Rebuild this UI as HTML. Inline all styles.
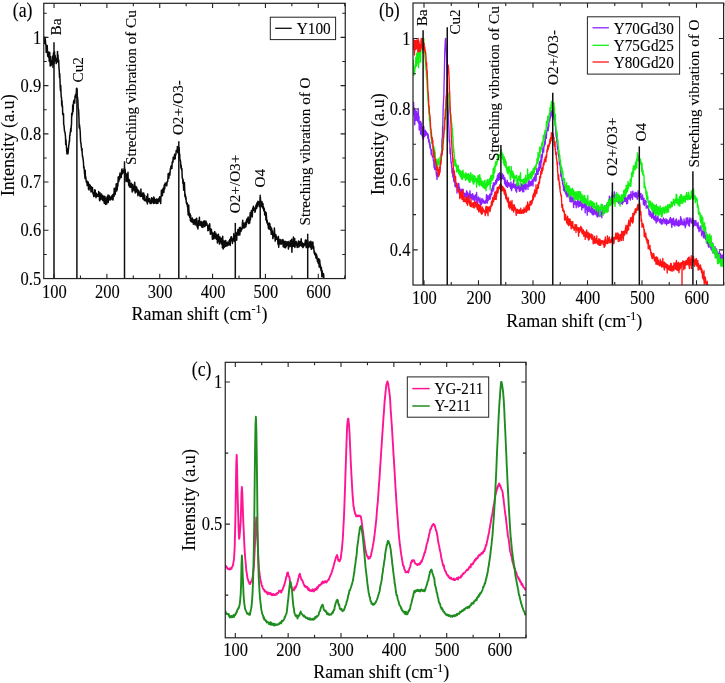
<!DOCTYPE html>
<html><head><meta charset="utf-8"><title>Raman spectra</title>
<style>
html,body{margin:0;padding:0;background:#fff;}
body{width:725px;height:683px;overflow:hidden;}
svg{display:block;will-change:transform;}
text{font-family:"Liberation Serif",serif;fill:#000;stroke:#000;stroke-width:0.1px;}
</style></head><body>
<svg width="725" height="683" viewBox="0 0 725 683">
<rect width="725" height="683" fill="#fff"/>
<clipPath id="ca"><rect x="43.76" y="3.3" width="301.5" height="275.26"/></clipPath>
<polyline points="43.7,41.2 44.0,37.2 44.2,43.6 44.5,37.2 44.7,37.2 45.0,37.7 45.2,38.5 45.5,41.6 45.7,44.3 46.0,45.5 46.2,52.5 46.5,45.5 46.7,49.8 47.0,46.6 47.2,45.6 47.5,51.7 47.7,56.3 48.0,51.4 48.2,55.6 48.5,57.2 48.7,52.6 49.0,54.9 49.2,61.2 49.5,55.3 49.7,52.3 50.0,59.9 50.2,65.9 50.5,58.0 50.7,56.8 51.0,65.6 51.2,63.9 51.5,60.4 51.7,61.0 52.0,64.5 52.2,64.4 52.5,61.6 52.7,56.0 53.0,67.4 53.2,57.3 53.5,52.9 53.7,62.2 54.0,62.7 54.2,63.1 54.5,51.8 54.7,56.8 55.0,55.7 55.2,55.6 55.5,61.2 55.7,61.3 56.0,58.4 56.2,63.6 56.5,59.5 56.7,62.5 57.0,61.6 57.2,61.9 57.5,51.4 57.7,61.8 58.0,55.0 58.2,60.7 58.5,61.8 58.7,60.0 59.0,68.6 59.2,69.9 59.5,77.4 59.7,73.6 60.0,79.5 60.2,86.6 60.5,90.7 60.7,85.3 61.0,92.2 61.2,96.9 61.5,97.2 61.7,105.2 62.0,100.7 62.2,107.0 62.5,105.9 62.7,114.4 63.0,113.2 63.2,114.8 63.5,113.8 63.7,124.8 64.0,125.0 64.2,127.6 64.5,131.2 64.7,131.8 65.0,131.9 65.2,134.1 65.5,136.6 65.7,144.5 66.0,139.8 66.2,144.2 66.5,147.0 66.7,150.9 67.0,154.0 67.2,150.4 67.5,148.8 67.7,152.1 68.0,153.8 68.2,151.4 68.5,148.4 68.7,145.1 69.0,144.6 69.2,141.2 69.5,141.7 69.7,135.4 70.0,135.4 70.2,132.4 70.5,131.5 70.7,128.3 71.0,131.6 71.2,126.6 71.5,124.3 71.7,113.3 72.0,115.6 72.2,113.0 72.5,113.9 72.7,105.0 73.0,111.8 73.2,109.8 73.5,102.2 73.7,101.3 74.0,100.2 74.2,100.8 74.5,100.9 74.7,103.1 75.0,96.2 75.2,97.4 75.5,94.6 75.7,97.5 76.0,94.0 76.2,94.8 76.5,88.2 76.7,90.1 77.0,88.5 77.2,95.9 77.5,97.1 77.7,98.9 78.0,102.7 78.2,108.6 78.5,109.1 78.7,112.1 79.0,119.3 79.2,128.0 79.5,124.8 79.7,127.5 80.0,129.2 80.2,131.8 80.5,139.2 80.7,142.7 81.0,143.1 81.2,146.3 81.5,148.1 81.7,150.4 82.0,148.4 82.2,153.2 82.5,156.6 82.7,156.3 83.0,159.0 83.2,160.0 83.5,163.0 83.7,167.9 84.0,166.5 84.2,169.0 84.5,173.1 84.7,174.3 85.0,178.4 85.2,170.3 85.5,178.8 85.7,176.5 86.0,178.8 86.2,181.3 86.5,182.5 86.7,183.0 87.0,181.4 87.2,185.6 87.5,181.3 87.7,182.2 88.0,185.0 88.2,182.0 88.5,189.2 88.7,186.8 89.0,190.0 89.2,184.9 89.5,184.4 89.7,186.2 90.0,188.1 90.2,185.2 90.5,188.0 90.7,187.5 91.0,192.0 91.2,186.8 91.5,191.5 91.7,187.7 92.0,187.3 92.2,188.4 92.5,187.6 92.7,191.4 93.0,194.0 93.2,192.2 93.5,193.7 93.7,196.6 94.0,193.6 94.2,193.7 94.5,192.9 94.7,189.8 95.0,196.0 95.2,190.0 95.5,196.2 95.7,194.7 96.0,197.8 96.2,195.0 96.5,193.3 96.7,196.4 97.0,194.3 97.2,195.4 97.5,196.2 97.7,195.9 98.0,196.0 98.2,194.5 98.5,196.3 98.7,191.6 99.0,196.7 99.2,194.2 99.5,200.2 99.7,200.7 100.0,192.8 100.2,198.1 100.5,197.6 100.7,195.4 101.0,199.5 101.2,197.1 101.5,193.9 101.7,197.8 102.0,198.1 102.2,198.8 102.5,195.6 102.7,200.2 103.0,200.6 103.2,195.9 103.5,197.1 103.7,198.6 104.0,197.4 104.2,203.2 104.5,199.3 104.7,196.2 105.0,196.8 105.2,198.6 105.5,204.4 105.7,198.2 106.0,198.9 106.2,199.8 106.5,198.4 106.7,204.1 107.0,197.1 107.2,200.2 107.5,198.6 107.7,199.7 108.0,195.1 108.2,202.4 108.5,197.6 108.7,197.9 109.0,195.4 109.2,195.8 109.5,198.9 109.7,199.8 110.0,199.1 110.2,200.1 110.5,198.8 110.7,196.9 111.0,198.8 111.2,198.1 111.5,196.2 111.7,198.1 112.0,199.4 112.2,196.6 112.5,194.9 112.7,197.4 113.0,200.0 113.2,194.4 113.5,194.2 113.7,193.7 114.0,196.5 114.2,188.3 114.5,193.3 114.7,194.7 115.0,189.1 115.2,194.2 115.5,191.1 115.7,187.7 116.0,188.9 116.2,183.9 116.5,185.6 116.7,191.0 117.0,183.5 117.2,189.7 117.5,184.2 117.7,186.3 118.0,183.4 118.2,177.0 118.5,180.5 118.7,181.6 119.0,177.5 119.2,176.2 119.5,179.7 119.7,176.4 120.0,173.0 120.2,174.7 120.5,177.8 120.7,173.7 121.0,176.6 121.2,177.4 121.5,173.1 121.7,169.7 122.0,168.9 122.2,171.8 122.5,173.8 122.7,172.2 123.0,172.9 123.2,170.4 123.5,172.3 123.7,170.5 124.0,170.9 124.2,168.6 124.5,168.0 124.7,170.9 125.0,169.6 125.2,170.3 125.5,174.9 125.7,173.4 126.0,181.6 126.2,177.2 126.5,174.0 126.7,178.2 127.0,177.9 127.2,176.0 127.5,181.2 127.7,177.2 128.0,172.2 128.2,182.5 128.4,179.5 128.7,185.3 128.9,180.4 129.2,179.5 129.4,186.7 129.7,180.5 129.9,184.0 130.2,187.4 130.4,184.4 130.7,184.2 130.9,185.0 131.2,187.1 131.4,183.3 131.7,187.1 131.9,187.3 132.2,192.0 132.4,185.6 132.7,184.4 132.9,188.8 133.2,186.2 133.4,188.1 133.7,188.0 133.9,190.8 134.2,186.5 134.4,188.1 134.7,182.2 134.9,186.6 135.2,192.9 135.4,187.5 135.7,187.7 135.9,186.6 136.2,191.3 136.4,190.5 136.7,187.3 136.9,192.2 137.2,191.3 137.4,192.8 137.7,189.5 137.9,195.7 138.2,192.5 138.4,191.4 138.7,190.6 138.9,191.5 139.2,194.5 139.4,191.9 139.7,195.5 139.9,194.5 140.2,196.6 140.4,195.5 140.7,193.5 140.9,189.1 141.2,194.8 141.4,196.3 141.7,194.9 141.9,196.1 142.2,193.8 142.4,194.2 142.7,193.0 142.9,199.0 143.2,196.2 143.4,194.8 143.7,192.9 143.9,196.0 144.2,200.2 144.4,197.9 144.7,195.2 144.9,200.7 145.2,200.9 145.4,200.0 145.7,199.7 145.9,200.8 146.2,199.4 146.4,200.2 146.7,196.5 146.9,202.3 147.2,199.3 147.4,203.9 147.7,193.9 147.9,200.9 148.2,201.8 148.4,198.6 148.7,200.7 148.9,201.5 149.2,201.2 149.4,198.6 149.7,199.7 149.9,202.7 150.2,203.5 150.4,200.7 150.7,200.7 150.9,201.1 151.2,203.4 151.4,198.2 151.7,197.7 151.9,201.4 152.2,198.4 152.4,199.8 152.7,201.6 152.9,202.6 153.2,198.8 153.4,203.5 153.7,197.1 153.9,202.9 154.2,197.7 154.4,198.4 154.7,203.2 154.9,200.5 155.2,199.5 155.4,200.3 155.7,202.5 155.9,201.1 156.2,201.0 156.4,203.6 156.7,199.0 156.9,199.5 157.2,199.2 157.4,203.3 157.7,202.7 157.9,203.2 158.2,199.8 158.4,199.3 158.7,201.6 158.9,198.3 159.2,201.1 159.4,200.5 159.7,196.7 159.9,197.9 160.2,197.5 160.4,201.8 160.7,203.6 160.9,196.5 161.2,196.4 161.4,190.2 161.7,195.9 161.9,194.9 162.2,191.6 162.4,195.6 162.7,189.1 162.9,191.8 163.2,192.0 163.4,187.9 163.7,192.5 163.9,192.3 164.2,185.5 164.4,184.7 164.7,189.0 164.9,186.7 165.2,183.0 165.4,184.6 165.7,184.3 165.9,183.4 166.2,185.0 166.4,183.1 166.7,185.8 166.9,184.1 167.2,181.5 167.4,181.7 167.7,181.5 167.9,179.2 168.2,173.6 168.4,178.0 168.7,175.2 168.9,178.2 169.2,173.6 169.4,173.8 169.7,172.5 169.9,175.1 170.2,170.5 170.4,168.5 170.7,169.1 170.9,166.3 171.2,166.9 171.4,165.6 171.7,165.4 171.9,168.6 172.2,162.0 172.4,162.3 172.7,161.0 172.9,162.5 173.2,157.2 173.4,157.8 173.7,158.7 173.9,159.6 174.2,157.5 174.4,155.7 174.7,154.2 174.9,157.1 175.2,158.8 175.4,155.4 175.7,154.5 175.9,154.6 176.2,150.5 176.4,151.5 176.7,150.9 176.9,151.6 177.2,150.0 177.4,146.4 177.7,151.7 177.9,152.8 178.2,147.7 178.4,149.4 178.7,149.7 178.9,152.0 179.2,147.8 179.4,157.3 179.7,154.1 179.9,160.5 180.2,159.8 180.4,160.7 180.7,163.4 180.9,167.9 181.2,165.2 181.4,168.2 181.7,169.8 181.9,168.6 182.2,178.0 182.4,178.1 182.7,178.5 182.9,183.4 183.2,180.0 183.4,184.0 183.7,190.3 183.9,190.2 184.2,183.8 184.4,182.6 184.7,189.8 184.9,196.5 185.2,194.0 185.4,195.9 185.7,199.2 185.9,196.7 186.2,200.6 186.4,203.2 186.7,203.5 186.9,204.4 187.2,202.9 187.4,206.7 187.7,205.4 187.9,210.7 188.2,214.9 188.4,207.6 188.7,205.0 188.9,210.3 189.2,213.4 189.4,216.1 189.7,217.2 189.9,213.6 190.2,214.5 190.4,220.5 190.7,215.4 190.9,221.5 191.2,218.7 191.4,221.5 191.7,221.6 191.9,222.0 192.2,222.3 192.4,218.0 192.7,221.4 192.9,220.9 193.2,221.8 193.4,224.3 193.7,220.7 193.9,219.7 194.2,219.8 194.4,221.0 194.7,223.8 194.9,220.0 195.2,225.0 195.4,223.0 195.7,221.8 195.9,219.1 196.2,223.1 196.4,224.3 196.7,218.3 196.9,225.7 197.2,226.9 197.4,223.7 197.7,224.2 197.9,229.0 198.2,226.1 198.4,220.8 198.7,223.1 198.9,222.8 199.2,222.8 199.4,217.3 199.7,225.2 199.9,221.7 200.2,223.7 200.4,223.0 200.7,225.5 200.9,222.7 201.2,221.4 201.4,224.8 201.7,227.0 201.9,222.7 202.2,226.9 202.4,224.2 202.7,222.2 202.9,227.4 203.2,221.6 203.4,226.2 203.7,222.5 203.9,224.9 204.2,220.7 204.4,221.8 204.7,226.6 204.9,224.5 205.2,224.2 205.4,223.1 205.7,225.4 205.9,221.0 206.2,221.9 206.4,224.5 206.7,223.0 206.9,223.6 207.2,225.4 207.4,225.6 207.7,225.7 207.9,230.7 208.2,229.4 208.4,230.3 208.7,227.5 208.9,226.6 209.2,224.6 209.4,227.8 209.7,223.8 209.9,227.9 210.2,231.7 210.4,234.2 210.7,232.9 210.9,228.7 211.2,232.4 211.4,229.5 211.7,233.9 211.9,231.9 212.2,234.6 212.4,239.2 212.7,235.3 212.9,239.1 213.2,234.0 213.4,233.0 213.7,237.4 213.9,238.7 214.2,233.2 214.4,235.1 214.7,231.6 214.9,235.0 215.2,238.0 215.4,235.9 215.7,235.0 215.9,233.2 216.2,237.9 216.4,239.3 216.7,239.1 216.9,238.5 217.2,235.0 217.4,242.9 217.7,238.6 217.9,238.7 218.2,241.2 218.4,234.2 218.7,239.8 218.9,239.9 219.2,241.4 219.4,244.1 219.7,242.2 219.9,236.7 220.2,240.6 220.4,242.2 220.7,242.3 220.9,239.0 221.2,238.2 221.4,244.0 221.7,243.6 221.9,242.9 222.2,238.8 222.4,247.7 222.7,236.2 222.9,242.7 223.2,248.9 223.4,243.4 223.7,244.5 223.9,241.1 224.2,247.5 224.4,240.9 224.7,244.8 224.9,244.5 225.2,241.6 225.4,246.4 225.7,240.6 225.9,242.4 226.2,244.0 226.4,243.0 226.7,245.1 226.9,246.1 227.2,243.0 227.4,242.3 227.7,242.2 227.9,242.4 228.2,245.2 228.4,242.5 228.7,243.9 228.9,242.5 229.2,240.4 229.4,244.5 229.7,239.5 229.9,241.9 230.2,245.4 230.4,238.7 230.7,241.1 230.9,237.0 231.2,239.5 231.4,236.8 231.7,239.4 231.9,238.7 232.2,240.1 232.4,243.5 232.7,240.0 232.9,240.7 233.2,238.6 233.4,237.9 233.7,236.2 233.9,233.5 234.2,237.9 234.4,241.6 234.7,238.5 234.9,235.7 235.2,240.9 235.4,235.5 235.7,234.8 235.9,233.0 236.2,233.4 236.4,234.9 236.7,240.3 236.9,234.5 237.2,232.2 237.4,233.0 237.7,233.6 237.9,229.6 238.2,233.9 238.4,235.1 238.7,233.8 238.9,234.2 239.2,229.2 239.4,227.8 239.7,235.0 239.9,234.2 240.2,227.3 240.4,231.3 240.7,230.5 240.9,231.5 241.2,230.3 241.4,228.2 241.7,229.6 241.9,229.2 242.2,228.3 242.4,223.4 242.7,220.2 242.9,225.4 243.2,222.9 243.4,227.3 243.7,228.1 243.9,226.6 244.2,224.7 244.4,225.4 244.7,227.8 244.9,222.7 245.2,226.5 245.4,225.6 245.7,224.1 245.9,226.7 246.2,220.9 246.4,224.7 246.7,219.7 246.9,219.7 247.2,218.6 247.4,222.0 247.7,218.2 247.9,220.3 248.2,217.0 248.4,222.1 248.7,223.6 248.9,219.2 249.2,222.4 249.4,219.3 249.7,222.9 249.9,217.3 250.2,212.7 250.4,219.9 250.7,215.4 250.9,212.7 251.2,213.2 251.4,210.4 251.7,213.6 251.9,210.9 252.2,216.9 252.4,214.4 252.7,208.1 252.9,208.1 253.2,210.0 253.4,206.2 253.7,210.3 253.9,210.1 254.2,207.9 254.4,208.1 254.7,210.3 254.9,212.2 255.2,212.0 255.4,208.0 255.7,209.7 255.9,205.4 256.2,208.0 256.4,204.2 256.7,208.2 256.9,203.0 257.2,203.4 257.4,205.5 257.7,206.6 257.9,201.3 258.2,203.3 258.4,204.7 258.7,204.6 258.9,201.7 259.2,203.8 259.4,202.7 259.7,206.7 259.9,204.5 260.2,199.7 260.4,197.5 260.7,203.3 260.9,206.2 261.2,204.0 261.4,206.1 261.7,203.1 261.9,201.4 262.2,207.2 262.4,206.1 262.7,208.1 262.9,203.4 263.2,207.9 263.4,206.5 263.7,210.7 263.9,207.9 264.2,208.6 264.4,209.5 264.7,215.0 264.9,212.7 265.2,211.7 265.4,211.9 265.7,212.8 265.9,219.9 266.2,212.7 266.4,216.0 266.7,220.6 266.9,222.8 267.2,220.3 267.4,223.4 267.7,224.0 267.9,225.2 268.2,223.5 268.4,228.1 268.7,225.2 268.9,229.1 269.2,223.1 269.4,228.8 269.7,223.9 269.9,223.8 270.2,229.4 270.4,226.6 270.7,230.4 270.9,227.1 271.2,234.3 271.4,230.8 271.7,228.4 271.9,232.2 272.2,234.4 272.4,230.7 272.7,234.4 272.9,238.6 273.2,236.1 273.4,234.3 273.7,233.3 273.9,236.5 274.2,231.6 274.4,228.1 274.7,234.4 274.9,233.7 275.2,241.1 275.4,237.4 275.7,235.0 275.9,234.8 276.2,239.3 276.4,236.3 276.7,237.2 276.9,238.8 277.2,239.5 277.4,239.8 277.7,240.1 277.9,243.3 278.2,244.6 278.4,236.4 278.7,247.2 278.9,241.3 279.2,244.3 279.4,239.5 279.7,242.3 279.9,242.2 280.2,242.0 280.4,244.0 280.7,243.5 280.9,239.5 281.2,241.8 281.4,244.0 281.7,244.0 281.9,241.5 282.2,241.8 282.4,242.2 282.7,239.9 282.9,239.5 283.2,246.7 283.4,241.9 283.7,243.2 283.9,241.1 284.2,246.3 284.4,247.5 284.7,242.7 284.9,244.6 285.2,241.5 285.4,247.8 285.7,245.8 285.9,241.4 286.2,246.7 286.4,244.5 286.7,244.7 286.9,244.6 287.2,242.1 287.4,242.5 287.7,245.4 287.9,243.8 288.2,241.6 288.4,249.1 288.7,243.5 288.9,242.7 289.2,242.4 289.4,245.9 289.7,246.6 289.9,244.8 290.2,246.4 290.4,240.5 290.7,243.3 290.9,243.1 291.2,244.3 291.4,245.5 291.7,239.2 291.9,252.2 292.2,242.2 292.4,245.2 292.7,246.4 292.9,246.5 293.2,245.0 293.4,237.1 293.7,241.6 293.9,246.2 294.2,242.0 294.4,241.7 294.7,238.4 294.9,247.4 295.2,245.6 295.4,242.1 295.7,244.0 295.9,244.0 296.2,241.5 296.4,243.6 296.7,244.9 296.9,245.7 297.2,247.4 297.4,244.3 297.7,243.1 297.9,245.3 298.2,242.7 298.4,241.1 298.7,247.1 298.9,243.3 299.2,244.6 299.4,245.9 299.7,241.5 299.9,245.9 300.2,245.4 300.4,244.0 300.7,245.2 300.9,242.4 301.2,238.7 301.4,243.5 301.7,242.0 301.9,246.4 302.2,244.9 302.4,242.9 302.7,244.4 302.9,247.6 303.2,247.1 303.4,245.2 303.7,245.3 303.9,243.5 304.2,243.9 304.4,245.7 304.7,243.9 304.9,245.0 305.2,241.5 305.4,240.1 305.7,240.0 305.9,243.1 306.2,247.6 306.4,247.2 306.7,241.7 306.9,240.3 307.2,246.2 307.4,245.4 307.7,240.8 307.9,246.9 308.2,244.7 308.4,247.6 308.7,245.2 308.9,246.6 309.2,245.2 309.4,242.1 309.7,244.0 309.9,243.0 310.2,246.9 310.4,242.5 310.7,241.3 310.9,247.0 311.2,248.3 311.4,249.3 311.7,248.5 311.9,242.2 312.2,244.5 312.4,245.1 312.7,246.8 312.9,241.9 313.2,247.8 313.4,249.0 313.7,246.5 313.9,249.8 314.2,253.2 314.4,251.0 314.7,254.2 314.9,254.8 315.2,253.9 315.4,254.6 315.7,253.3 315.9,258.0 316.2,254.3 316.4,254.4 316.7,258.6 316.9,255.7 317.2,259.2 317.4,261.5 317.7,259.7 317.9,260.5 318.2,263.2 318.4,263.5 318.7,258.5 318.9,259.7 319.2,267.1 319.4,265.4 319.7,260.0 319.9,262.5 320.2,266.7 320.4,264.9 320.7,269.3 320.9,269.0 321.2,270.8 321.4,267.5 321.7,272.7 321.9,276.8 322.2,270.7 322.4,276.7 322.7,276.6 322.9,276.5 323.2,275.5 323.4,273.5 323.7,274.9 323.9,279.7 324.2,280.9" fill="none" stroke="#0a0a0a" stroke-width="1.5" stroke-linejoin="round" clip-path="url(#ca)"/>
<line x1="54.0" y1="42.2" x2="54.0" y2="278.56" stroke="#111" stroke-width="1.5"/>
<line x1="76.9" y1="89" x2="76.9" y2="278.56" stroke="#111" stroke-width="1.5"/>
<line x1="124.5" y1="161.3" x2="124.5" y2="278.56" stroke="#111" stroke-width="1.5"/>
<line x1="178.8" y1="141.3" x2="178.8" y2="278.56" stroke="#111" stroke-width="1.5"/>
<line x1="235.3" y1="222.9" x2="235.3" y2="278.56" stroke="#111" stroke-width="1.5"/>
<line x1="260.2" y1="194.7" x2="260.2" y2="278.56" stroke="#111" stroke-width="1.5"/>
<line x1="307.7" y1="233.7" x2="307.7" y2="278.56" stroke="#111" stroke-width="1.5"/>
<rect x="43.76" y="3.3" width="301.5" height="275.26" fill="none" stroke="#222" stroke-width="1.2"/>
<path d="M54.04 278.56L54.04 273.86 M54.04 3.30L54.04 8.00 M106.89 278.56L106.89 273.86 M106.89 3.30L106.89 8.00 M159.74 278.56L159.74 273.86 M159.74 3.30L159.74 8.00 M212.59 278.56L212.59 273.86 M212.59 3.30L212.59 8.00 M265.44 278.56L265.44 273.86 M265.44 3.30L265.44 8.00 M318.29 278.56L318.29 273.86 M318.29 3.30L318.29 8.00 M80.47 278.56L80.47 275.56 M80.47 3.30L80.47 6.30 M133.31 278.56L133.31 275.56 M133.31 3.30L133.31 6.30 M186.16 278.56L186.16 275.56 M186.16 3.30L186.16 6.30 M239.01 278.56L239.01 275.56 M239.01 3.30L239.01 6.30 M291.87 278.56L291.87 275.56 M291.87 3.30L291.87 6.30 M344.72 278.56L344.72 275.56 M344.72 3.30L344.72 6.30 M43.76 278.55L48.46 278.55 M345.26 278.55L340.56 278.55 M43.76 230.31L48.46 230.31 M345.26 230.31L340.56 230.31 M43.76 182.07L48.46 182.07 M345.26 182.07L340.56 182.07 M43.76 133.83L48.46 133.83 M345.26 133.83L340.56 133.83 M43.76 85.59L48.46 85.59 M345.26 85.59L340.56 85.59 M43.76 37.35L48.46 37.35 M345.26 37.35L340.56 37.35 M43.76 254.43L46.76 254.43 M345.26 254.43L342.26 254.43 M43.76 206.19L46.76 206.19 M345.26 206.19L342.26 206.19 M43.76 157.95L46.76 157.95 M345.26 157.95L342.26 157.95 M43.76 109.71L46.76 109.71 M345.26 109.71L342.26 109.71 M43.76 61.47L46.76 61.47 M345.26 61.47L342.26 61.47 M43.76 13.23L46.76 13.23 M345.26 13.23L342.26 13.23" stroke="#222" stroke-width="1.1" fill="none"/>
<text transform="translate(54.4 297.5) scale(1 1.11)" font-size="16.5" text-anchor="middle">100</text>
<text transform="translate(107.3 297.5) scale(1 1.11)" font-size="16.5" text-anchor="middle">200</text>
<text transform="translate(160.1 297.5) scale(1 1.11)" font-size="16.5" text-anchor="middle">300</text>
<text transform="translate(213.0 297.5) scale(1 1.11)" font-size="16.5" text-anchor="middle">400</text>
<text transform="translate(265.8 297.5) scale(1 1.11)" font-size="16.5" text-anchor="middle">500</text>
<text transform="translate(318.7 297.5) scale(1 1.11)" font-size="16.5" text-anchor="middle">600</text>
<text transform="translate(41.2 43.5) scale(1 1.11)" font-size="16.5" text-anchor="end">1</text>
<text transform="translate(41.2 91.7) scale(1 1.11)" font-size="16.5" text-anchor="end">0.9</text>
<text transform="translate(41.2 139.9) scale(1 1.11)" font-size="16.5" text-anchor="end">0.8</text>
<text transform="translate(41.2 188.2) scale(1 1.11)" font-size="16.5" text-anchor="end">0.7</text>
<text transform="translate(41.2 236.4) scale(1 1.11)" font-size="16.5" text-anchor="end">0.6</text>
<text transform="translate(41.2 284.7) scale(1 1.11)" font-size="16.5" text-anchor="end">0.5</text>
<text transform="translate(199.5 319.5) scale(1 1.04)" font-size="18.0" text-anchor="middle">Raman shift (cm<tspan font-size="12" dy="-6.3">-1</tspan><tspan dy="6.3">)</tspan></text>
<text transform="translate(13.8 145.3) rotate(-90) scale(1 1.0)" font-size="18.2" text-anchor="middle">Intensity (a.u)</text>
<text transform="translate(12.8 16.5) scale(1 1.14)" font-size="17.8" text-anchor="start">(a)</text>
<text transform="translate(61.3 35.5) rotate(-90) scale(1 1.0)" font-size="15.2" text-anchor="start">Ba</text>
<text transform="translate(82.5 82.5) rotate(-90) scale(1 1.0)" font-size="15.2" text-anchor="start">Cu2</text>
<text transform="translate(136.0 165) rotate(-90) scale(1 1.0)" font-size="15.2" text-anchor="start">Streching vibration of Cu</text>
<text transform="translate(183.2 135.1) rotate(-90) scale(1 1.0)" font-size="15.2" text-anchor="start">O2+/O3-</text>
<text transform="translate(239.5 213.2) rotate(-90) scale(1 1.0)" font-size="15.2" text-anchor="start">O2+/O3+</text>
<text transform="translate(265.3 187.5) rotate(-90) scale(1 1.0)" font-size="15.2" text-anchor="start">O4</text>
<text transform="translate(309.8 225.5) rotate(-90) scale(1 1.0)" font-size="15.2" text-anchor="start">Streching vibration of O</text>
<rect x="270.3" y="17.2" width="65.3" height="22.4" fill="#fff" stroke="#222" stroke-width="1"/>
<line x1="275.2" y1="28.3" x2="291.7" y2="28.3" stroke="#0a0a0a" stroke-width="1.3"/>
<text transform="translate(296.8 34.0) scale(1 1.05)" font-size="15.3" text-anchor="start">Y100</text>
<clipPath id="cb"><rect x="413.0" y="3.0" width="310.6" height="282.05"/></clipPath>
<polyline points="413.0,109.6 413.2,107.2 413.4,107.8 413.6,102.3 413.8,113.9 414.0,115.7 414.2,115.0 414.4,108.1 414.6,123.6 414.8,124.8 415.0,112.9 415.2,110.1 415.4,115.8 415.6,117.0 415.8,116.2 416.0,116.3 416.2,120.4 416.4,111.1 416.6,113.0 416.8,113.4 417.0,115.5 417.2,119.3 417.4,116.4 417.6,120.6 417.8,120.4 418.0,121.8 418.2,108.4 418.4,114.6 418.6,116.5 418.8,123.4 419.0,116.3 419.2,130.1 419.4,124.6 419.6,125.0 419.8,123.3 420.0,126.9 420.2,127.6 420.4,121.3 420.6,134.2 420.8,121.7 421.0,132.7 421.2,128.9 421.4,123.1 421.6,132.1 421.8,127.2 422.0,135.9 422.2,127.2 422.4,127.0 422.6,131.5 422.8,138.1 423.0,138.9 423.2,130.3 423.4,138.9 423.6,131.4 423.8,126.4 424.0,130.1 424.2,134.1 424.4,132.2 424.6,136.6 424.8,132.6 425.0,133.3 425.2,133.4 425.4,130.3 425.6,131.7 425.8,135.2 426.0,131.4 426.2,133.0 426.4,132.8 426.6,134.5 426.8,132.6 427.0,133.5 427.2,134.9 427.4,135.2 427.6,133.6 427.8,138.4 428.0,134.1 428.2,135.2 428.4,135.8 428.6,141.9 428.8,139.8 429.0,139.4 429.2,140.0 429.4,144.5 429.6,142.1 429.8,142.6 430.0,147.9 430.2,144.6 430.4,147.6 430.6,149.2 430.8,149.0 431.0,150.7 431.2,154.7 431.4,151.2 431.6,150.3 431.8,149.8 432.0,154.4 432.2,154.9 432.4,157.1 432.6,156.2 432.8,157.0 433.0,157.3 433.2,158.5 433.4,160.9 433.6,160.5 433.8,162.3 434.0,167.3 434.2,164.8 434.4,160.8 434.6,169.2 434.8,166.8 435.0,164.5 435.2,169.6 435.4,168.4 435.6,167.8 435.8,168.7 436.0,168.8 436.2,172.1 436.4,175.3 436.6,172.9 436.8,175.4 437.0,179.4 437.2,172.8 437.4,176.6 437.6,175.6 437.8,174.0 438.0,173.9 438.2,175.9 438.4,176.5 438.6,173.6 438.8,174.1 439.0,174.6 439.2,172.4 439.4,172.4 439.6,170.0 439.8,168.4 440.0,169.8 440.2,165.2 440.4,162.2 440.6,161.5 440.8,155.7 441.0,154.8 441.2,155.2 441.4,152.6 441.6,152.3 441.8,145.8 442.0,138.8 442.2,142.5 442.4,135.9 442.6,125.9 442.8,126.1 443.0,117.5 443.2,107.5 443.4,104.9 443.6,98.9 443.8,98.1 444.0,86.0 444.2,79.3 444.4,70.5 444.6,61.4 444.8,51.8 445.0,47.2 445.2,43.7 445.4,39.6 445.6,38.4 445.8,38.4 446.0,44.3 446.2,47.5 446.4,53.8 446.6,57.9 446.8,73.0 447.0,77.0 447.2,78.4 447.4,88.2 447.6,95.0 447.8,92.4 448.0,102.7 448.2,109.0 448.4,117.2 448.6,120.7 448.8,125.3 449.0,129.9 449.2,138.0 449.4,142.3 449.6,139.6 449.8,141.9 450.0,153.4 450.2,148.0 450.4,151.7 450.6,155.8 450.8,159.2 451.0,162.7 451.2,163.3 451.4,162.2 451.6,166.9 451.8,167.9 452.0,173.0 452.2,170.0 452.4,168.3 452.6,170.2 452.8,177.1 453.0,173.6 453.2,171.0 453.4,175.5 453.6,177.7 453.8,181.3 454.0,176.9 454.2,181.5 454.4,182.4 454.6,179.6 454.8,181.3 455.0,186.4 455.2,186.8 455.4,185.3 455.6,184.5 455.8,186.9 456.0,184.4 456.2,184.9 456.4,183.5 456.6,185.9 456.8,186.1 457.0,193.0 457.2,186.5 457.4,190.2 457.6,190.6 457.8,187.4 458.0,190.8 458.2,183.4 458.4,188.9 458.6,190.9 458.8,183.6 459.0,186.7 459.2,192.0 459.4,189.2 459.6,187.5 459.8,189.3 460.0,189.2 460.2,192.3 460.4,191.8 460.6,190.3 460.8,189.6 461.0,191.2 461.2,194.5 461.4,192.5 461.6,193.3 461.8,191.6 462.0,189.2 462.2,190.7 462.4,193.9 462.6,192.8 462.8,190.6 463.0,189.1 463.2,193.2 463.4,192.3 463.6,192.4 463.8,192.6 464.0,194.2 464.2,194.3 464.4,195.9 464.6,196.0 464.8,197.0 465.0,195.9 465.2,193.4 465.4,194.2 465.6,195.5 465.8,193.8 466.0,195.9 466.2,197.4 466.4,193.0 466.6,190.8 466.8,197.7 467.0,195.1 467.2,196.8 467.4,192.2 467.6,199.3 467.8,197.1 468.0,195.2 468.2,194.8 468.4,195.9 468.6,195.3 468.8,195.1 469.0,193.3 469.2,198.8 469.4,195.9 469.6,196.2 469.8,196.3 470.0,190.8 470.2,197.5 470.4,195.6 470.6,195.7 470.8,196.6 471.0,194.3 471.2,198.5 471.4,195.0 471.6,194.6 471.8,194.8 472.0,197.2 472.2,198.6 472.4,195.6 472.6,193.6 472.8,199.5 473.0,194.7 473.2,200.0 473.4,197.2 473.6,195.8 473.8,196.0 474.0,198.6 474.2,199.6 474.4,197.2 474.6,199.9 474.8,202.6 475.0,197.4 475.2,195.3 475.4,195.6 475.6,194.9 475.8,196.7 476.0,196.6 476.2,195.3 476.4,199.7 476.6,192.5 476.8,195.6 477.0,203.4 477.2,201.3 477.4,200.2 477.6,200.2 477.8,203.3 478.0,200.6 478.2,199.7 478.4,196.9 478.6,199.7 478.8,198.3 479.0,198.6 479.2,198.7 479.4,200.4 479.6,199.9 479.8,202.8 480.0,197.9 480.2,200.8 480.4,205.6 480.6,201.5 480.8,204.4 481.0,204.4 481.2,204.9 481.4,203.7 481.6,199.0 481.8,201.6 482.0,201.5 482.2,198.9 482.4,201.5 482.6,199.7 482.8,198.9 483.0,203.2 483.2,202.7 483.4,201.2 483.6,200.6 483.8,201.5 484.0,201.9 484.2,201.8 484.4,202.5 484.6,201.5 484.8,203.3 485.0,203.5 485.2,203.0 485.4,200.5 485.6,200.4 485.8,202.6 486.0,201.0 486.2,201.1 486.4,195.3 486.6,194.6 486.8,201.3 487.0,201.0 487.2,203.2 487.4,201.4 487.6,200.0 487.8,199.2 488.0,195.6 488.2,200.7 488.4,197.0 488.6,199.2 488.8,198.2 489.0,198.1 489.2,199.3 489.4,195.8 489.6,195.7 489.8,194.2 490.0,194.9 490.2,199.1 490.4,194.0 490.6,197.1 490.8,195.7 491.0,194.9 491.2,194.6 491.4,189.8 491.6,192.4 491.8,194.6 492.0,188.8 492.2,189.7 492.4,187.6 492.6,189.3 492.8,185.5 493.0,191.1 493.2,186.0 493.4,182.8 493.6,189.9 493.8,187.5 494.0,186.0 494.2,185.6 494.4,183.1 494.6,183.0 494.8,184.8 495.0,184.9 495.2,184.5 495.4,182.5 495.6,180.6 495.8,180.9 496.0,183.5 496.2,183.9 496.4,179.5 496.6,178.8 496.8,182.5 497.0,181.0 497.2,180.6 497.4,175.7 497.6,177.5 497.8,176.9 498.0,178.3 498.2,173.7 498.4,180.3 498.6,177.8 498.8,177.9 499.0,174.0 499.2,176.5 499.4,179.5 499.6,172.6 499.8,176.8 500.0,177.5 500.2,174.2 500.4,177.6 500.6,174.8 500.8,178.4 501.0,176.7 501.2,176.0 501.4,180.2 501.6,177.6 501.8,178.8 502.0,173.2 502.2,174.6 502.4,178.2 502.6,178.6 502.8,176.7 503.0,178.8 503.2,174.9 503.4,178.1 503.6,175.3 503.8,179.1 504.0,177.5 504.2,177.5 504.4,179.4 504.6,183.8 504.8,177.7 505.0,179.0 505.2,183.2 505.4,180.1 505.6,185.5 505.8,182.3 506.0,182.3 506.2,183.2 506.4,186.7 506.6,184.5 506.8,184.4 507.0,184.0 507.2,180.1 507.4,181.8 507.6,187.4 507.8,186.0 508.0,185.4 508.2,185.8 508.4,183.2 508.6,185.3 508.8,182.6 509.0,185.7 509.2,183.2 509.4,184.5 509.6,186.1 509.8,184.4 510.0,186.7 510.2,186.4 510.4,186.3 510.6,188.6 510.8,182.2 511.0,182.0 511.2,187.2 511.4,188.0 511.6,190.6 511.8,187.8 512.0,188.0 512.2,184.2 512.4,188.0 512.6,187.9 512.8,184.0 513.0,184.5 513.2,186.4 513.4,187.3 513.6,180.0 513.8,187.0 514.0,187.4 514.2,186.6 514.4,187.6 514.6,188.1 514.8,184.8 515.0,188.2 515.2,186.7 515.4,185.2 515.6,187.9 515.8,190.9 516.0,184.1 516.2,183.8 516.4,183.8 516.6,192.2 516.8,187.1 517.0,187.6 517.2,186.0 517.4,185.7 517.6,183.2 517.8,188.3 518.0,188.5 518.2,183.4 518.4,185.6 518.6,186.3 518.8,188.0 519.0,188.6 519.2,190.7 519.4,191.3 519.6,190.6 519.8,191.2 520.0,185.5 520.2,186.9 520.4,190.8 520.6,188.9 520.8,188.2 521.0,183.6 521.2,183.9 521.4,189.9 521.6,189.0 521.8,187.5 522.0,187.2 522.2,184.2 522.4,189.0 522.6,190.4 522.8,191.8 523.0,188.1 523.2,187.5 523.4,185.4 523.6,190.6 523.8,191.7 524.0,186.3 524.2,188.3 524.4,187.8 524.6,186.2 524.8,181.7 525.0,186.5 525.2,188.7 525.4,183.8 525.6,185.1 525.8,179.4 526.0,189.8 526.2,187.9 526.4,186.8 526.6,185.9 526.8,185.0 527.0,186.2 527.2,185.5 527.4,185.5 527.6,185.9 527.8,186.1 528.0,189.3 528.2,182.2 528.4,186.0 528.6,183.9 528.8,182.5 529.0,179.6 529.2,186.3 529.4,182.5 529.6,182.8 529.8,185.5 530.0,181.8 530.2,184.2 530.4,183.8 530.6,185.6 530.8,185.9 531.0,181.5 531.2,185.4 531.4,182.9 531.6,183.2 531.8,182.3 532.0,184.4 532.2,179.6 532.4,182.8 532.6,184.6 532.8,181.0 533.0,186.0 533.2,179.4 533.4,181.2 533.6,179.3 533.8,178.6 534.0,177.1 534.2,178.0 534.4,178.7 534.6,176.6 534.8,180.0 535.0,181.1 535.2,173.6 535.4,178.6 535.6,176.6 535.8,176.2 536.0,180.8 536.2,177.4 536.4,174.9 536.6,174.0 536.8,168.1 537.0,174.3 537.2,170.3 537.4,171.9 537.6,171.1 537.8,172.5 538.0,174.4 538.2,171.4 538.4,171.5 538.6,167.4 538.8,168.4 539.0,168.6 539.2,162.9 539.4,170.3 539.6,163.4 539.8,161.4 540.0,167.5 540.2,167.9 540.4,160.7 540.6,160.2 540.8,168.0 541.0,160.3 541.2,154.7 541.4,157.0 541.6,162.1 541.8,158.2 542.0,157.5 542.2,157.6 542.4,155.4 542.6,152.2 542.8,148.3 543.0,152.1 543.2,147.5 543.4,149.0 543.6,152.1 543.8,148.3 544.0,146.2 544.2,145.3 544.4,145.8 544.6,145.3 544.8,139.1 545.0,141.6 545.2,144.1 545.4,141.0 545.6,136.5 545.8,135.8 546.0,131.7 546.2,133.7 546.4,138.3 546.6,133.5 546.8,130.9 547.0,130.7 547.2,130.9 547.4,130.1 547.6,128.8 547.8,127.0 548.0,129.4 548.2,130.6 548.4,124.9 548.6,124.1 548.8,127.1 549.0,120.1 549.2,121.2 549.4,120.8 549.6,121.1 549.8,119.2 550.0,116.9 550.2,118.8 550.4,114.5 550.6,112.5 550.8,111.1 551.0,116.8 551.2,110.4 551.4,114.8 551.6,114.8 551.8,114.7 552.0,112.0 552.2,110.9 552.4,112.1 552.6,110.4 552.8,108.7 553.0,114.7 553.2,110.1 553.4,116.8 553.6,114.6 553.8,113.3 554.0,116.4 554.2,119.4 554.4,114.8 554.6,117.3 554.8,118.6 555.0,123.1 555.2,125.4 555.4,126.4 555.6,126.5 555.8,128.9 556.0,134.8 556.2,136.6 556.4,136.3 556.6,134.9 556.8,141.3 557.0,142.4 557.2,144.1 557.4,149.3 557.6,148.9 557.8,146.3 558.0,147.8 558.2,154.6 558.4,153.4 558.6,156.4 558.8,155.7 559.0,155.3 559.2,159.8 559.4,164.3 559.6,163.1 559.8,161.3 560.0,164.8 560.2,165.9 560.4,169.0 560.6,172.5 560.8,176.2 561.0,173.7 561.2,173.6 561.4,176.1 561.6,177.3 561.8,177.6 562.0,179.8 562.2,180.9 562.4,179.3 562.6,184.2 562.8,183.0 563.0,182.4 563.2,186.5 563.4,184.9 563.6,190.6 563.8,188.3 564.0,187.9 564.2,186.5 564.4,187.9 564.6,191.3 564.8,188.2 565.0,192.0 565.2,185.9 565.4,191.6 565.6,193.4 565.8,192.7 566.0,192.3 566.2,195.1 566.4,191.1 566.6,191.2 566.8,194.0 567.0,196.9 567.2,195.4 567.4,194.3 567.6,195.7 567.8,196.3 568.0,192.7 568.2,189.3 568.4,193.7 568.6,192.8 568.8,195.2 569.0,194.0 569.2,194.9 569.4,198.1 569.6,197.6 569.8,197.5 570.0,201.6 570.2,196.9 570.4,197.3 570.6,201.3 570.8,196.0 571.0,195.0 571.2,201.9 571.4,199.9 571.6,200.6 571.8,200.9 572.0,201.7 572.2,198.7 572.4,199.7 572.6,197.5 572.8,200.5 573.0,200.9 573.2,199.5 573.4,202.2 573.6,207.6 573.8,198.3 574.0,203.0 574.2,203.4 574.4,203.8 574.6,199.7 574.8,204.4 575.0,203.3 575.2,201.6 575.4,201.3 575.6,202.7 575.8,204.4 576.0,204.5 576.2,207.8 576.4,201.9 576.6,204.2 576.8,201.9 577.0,204.9 577.2,203.5 577.4,201.9 577.6,200.4 577.8,201.8 578.0,204.2 578.2,207.1 578.4,205.7 578.6,201.2 578.8,203.0 579.0,204.3 579.2,204.0 579.4,204.6 579.6,206.3 579.8,205.1 580.0,203.1 580.2,200.4 580.4,204.1 580.6,201.1 580.8,204.7 581.0,205.9 581.2,202.2 581.4,205.0 581.6,204.7 581.8,209.9 582.0,206.7 582.2,201.4 582.4,206.8 582.6,206.9 582.8,205.5 583.0,205.2 583.2,207.6 583.4,207.8 583.6,207.4 583.8,204.2 584.0,206.0 584.2,203.1 584.4,203.4 584.6,205.6 584.8,204.6 585.0,206.1 585.2,212.9 585.4,208.4 585.6,205.3 585.8,202.5 586.0,205.6 586.2,204.3 586.4,202.7 586.6,209.5 586.8,206.8 587.0,209.0 587.2,215.2 587.4,208.8 587.6,208.5 587.8,209.2 588.0,207.9 588.2,206.7 588.4,208.2 588.6,211.4 588.8,208.2 589.0,205.8 589.2,206.2 589.4,206.7 589.6,209.2 589.8,210.4 590.0,210.5 590.2,212.2 590.4,209.1 590.6,211.6 590.8,210.5 591.0,211.5 591.2,205.8 591.4,213.0 591.6,206.6 591.8,207.7 592.0,212.2 592.2,209.6 592.4,214.6 592.6,211.0 592.8,208.4 593.0,211.2 593.2,210.0 593.4,214.6 593.6,214.8 593.8,212.9 594.0,210.3 594.2,211.6 594.4,213.9 594.6,209.7 594.8,209.8 595.0,213.7 595.2,213.5 595.4,211.4 595.6,211.4 595.8,207.6 596.0,214.9 596.2,212.0 596.4,209.0 596.6,209.8 596.8,210.4 597.0,216.5 597.2,214.2 597.4,209.6 597.6,217.0 597.8,215.9 598.0,210.4 598.2,206.8 598.4,215.2 598.6,211.6 598.8,212.7 599.0,211.9 599.2,216.0 599.4,216.5 599.6,215.0 599.8,212.8 600.0,213.8 600.2,214.6 600.4,209.6 600.6,216.0 600.8,212.4 601.0,213.7 601.2,213.3 601.4,215.0 601.6,215.2 601.8,217.7 602.0,211.7 602.2,210.3 602.4,212.5 602.6,210.5 602.8,213.7 603.0,209.7 603.2,211.6 603.4,213.2 603.6,213.2 603.8,211.0 604.0,213.5 604.2,213.0 604.4,205.8 604.6,210.3 604.8,209.6 605.0,208.2 605.2,207.1 605.4,208.4 605.6,208.8 605.8,208.3 606.0,210.5 606.2,209.3 606.4,205.4 606.6,204.7 606.8,208.0 607.0,204.2 607.2,205.9 607.4,206.3 607.6,207.3 607.8,205.8 608.0,207.7 608.2,203.0 608.4,205.4 608.6,202.0 608.8,203.6 609.0,203.1 609.2,200.4 609.4,196.1 609.6,203.9 609.8,202.2 610.0,201.3 610.2,198.9 610.4,199.4 610.6,200.8 610.8,199.4 611.0,201.7 611.2,198.9 611.4,196.4 611.6,199.3 611.8,196.2 612.0,197.8 612.2,192.9 612.4,196.0 612.6,197.9 612.8,195.0 613.0,196.3 613.2,197.6 613.4,196.3 613.6,200.3 613.8,195.6 614.0,195.8 614.2,195.9 614.4,191.8 614.6,192.9 614.8,197.8 615.0,195.9 615.2,200.0 615.4,196.8 615.6,196.8 615.8,199.7 616.0,198.1 616.2,201.4 616.4,195.4 616.6,199.1 616.8,199.8 617.0,199.7 617.2,201.3 617.4,201.2 617.6,199.2 617.8,198.0 618.0,201.7 618.2,199.8 618.4,202.1 618.6,203.2 618.8,200.7 619.0,198.3 619.2,200.0 619.4,202.5 619.6,200.3 619.8,203.6 620.0,201.1 620.2,201.4 620.4,199.7 620.6,201.0 620.8,203.7 621.0,200.4 621.2,200.4 621.4,199.4 621.6,202.9 621.8,197.6 622.0,199.5 622.2,203.1 622.4,204.2 622.6,200.3 622.8,203.0 623.0,196.1 623.2,202.3 623.4,201.2 623.6,197.6 623.8,196.2 624.0,199.0 624.2,200.7 624.4,200.8 624.6,200.1 624.8,201.5 625.0,201.2 625.2,196.3 625.4,198.5 625.6,198.0 625.8,201.4 626.0,197.8 626.2,201.1 626.4,198.9 626.6,203.9 626.8,198.3 627.0,198.3 627.2,197.9 627.4,198.3 627.6,203.4 627.8,196.6 628.0,195.6 628.2,197.0 628.4,198.9 628.6,194.9 628.8,198.9 629.0,198.7 629.2,196.5 629.4,196.1 629.6,194.8 629.8,195.9 630.0,194.6 630.2,199.2 630.4,200.0 630.6,195.5 630.8,196.0 631.0,191.6 631.2,194.7 631.4,196.7 631.6,196.5 631.8,196.1 632.0,197.7 632.2,195.9 632.4,194.7 632.6,199.3 632.8,191.1 633.0,192.8 633.2,193.7 633.4,193.7 633.6,193.5 633.8,194.7 634.0,193.6 634.2,195.0 634.4,196.5 634.6,195.1 634.8,195.3 635.0,192.8 635.2,192.3 635.4,194.2 635.6,197.0 635.8,195.7 636.0,197.2 636.2,197.0 636.4,197.3 636.6,192.8 636.8,197.5 637.0,196.3 637.2,199.3 637.4,195.9 637.6,195.3 637.8,194.2 638.0,194.9 638.2,190.7 638.4,193.9 638.6,194.4 638.8,196.7 639.0,192.9 639.2,194.7 639.4,198.6 639.6,193.3 639.8,196.5 640.0,193.5 640.2,194.6 640.4,196.1 640.6,197.3 640.8,194.4 641.0,193.4 641.2,199.5 641.4,196.8 641.6,198.5 641.8,199.1 642.0,199.2 642.2,197.2 642.4,197.9 642.6,195.0 642.8,199.4 643.0,198.3 643.2,199.7 643.4,204.4 643.6,202.1 643.8,201.1 644.0,198.2 644.2,203.3 644.4,205.5 644.6,200.5 644.8,203.6 645.0,201.8 645.2,203.0 645.4,202.8 645.6,200.3 645.8,203.2 646.0,201.0 646.2,208.2 646.4,207.8 646.6,205.9 646.8,206.8 647.0,206.7 647.2,207.4 647.4,207.8 647.6,207.2 647.8,207.7 648.0,205.5 648.2,206.6 648.4,207.9 648.6,210.1 648.8,209.2 649.0,214.7 649.2,210.3 649.4,210.3 649.6,212.4 649.8,214.1 650.0,216.3 650.2,214.7 650.4,211.5 650.6,212.7 650.8,215.8 651.0,214.3 651.2,215.8 651.4,214.1 651.6,218.1 651.8,218.0 652.0,217.6 652.2,215.6 652.4,211.8 652.6,212.6 652.8,216.6 653.0,217.5 653.2,209.7 653.4,215.3 653.6,219.2 653.8,218.9 654.0,215.8 654.2,218.6 654.4,217.4 654.6,217.0 654.8,220.2 655.0,220.4 655.2,216.8 655.4,216.1 655.6,215.4 655.8,215.3 656.0,221.7 656.2,223.0 656.4,219.4 656.6,221.5 656.8,217.7 657.0,219.2 657.2,221.6 657.4,220.3 657.6,219.7 657.8,216.1 658.0,216.7 658.2,219.2 658.4,219.0 658.6,220.1 658.8,219.0 659.0,220.0 659.2,220.7 659.4,221.8 659.6,220.8 659.8,219.5 660.0,220.2 660.2,222.9 660.4,220.4 660.6,218.8 660.8,218.7 661.0,221.6 661.2,222.3 661.4,223.8 661.6,220.4 661.8,224.2 662.0,220.4 662.2,220.7 662.4,219.9 662.6,222.4 662.8,223.6 663.0,221.3 663.2,220.2 663.4,217.9 663.6,221.7 663.8,220.7 664.0,221.0 664.2,220.1 664.4,219.5 664.6,220.6 664.8,222.6 665.0,223.7 665.2,221.6 665.4,222.3 665.6,221.2 665.8,221.4 666.0,218.6 666.2,223.7 666.4,223.1 666.6,225.0 666.8,220.4 667.0,222.1 667.2,219.8 667.4,222.4 667.6,221.6 667.8,223.4 668.0,221.6 668.2,223.3 668.4,220.8 668.6,223.3 668.8,221.3 669.0,221.0 669.2,222.2 669.4,222.8 669.6,218.9 669.8,218.7 670.0,222.5 670.2,221.9 670.4,217.5 670.6,218.3 670.8,220.4 671.0,222.8 671.2,222.6 671.4,224.4 671.6,224.7 671.8,227.4 672.0,218.9 672.2,222.1 672.4,224.5 672.6,219.4 672.8,219.0 673.0,222.6 673.2,224.6 673.4,225.0 673.6,218.2 673.8,219.5 674.0,221.9 674.2,221.0 674.4,222.9 674.6,222.5 674.8,226.1 675.0,222.0 675.2,222.6 675.4,222.3 675.6,224.6 675.8,219.7 676.0,223.0 676.2,220.4 676.4,219.0 676.6,224.8 676.8,223.3 677.0,225.3 677.2,222.8 677.4,223.6 677.6,222.5 677.8,223.5 678.0,221.3 678.2,226.0 678.4,220.2 678.6,226.0 678.8,221.8 679.0,224.2 679.2,222.5 679.4,223.2 679.6,225.5 679.8,222.5 680.0,220.1 680.2,222.8 680.4,223.7 680.6,216.7 680.8,224.4 681.0,224.7 681.2,218.2 681.4,221.9 681.6,224.1 681.8,219.6 682.0,221.3 682.2,221.5 682.4,223.5 682.6,224.7 682.8,222.2 683.0,222.4 683.2,224.3 683.4,223.4 683.6,222.0 683.8,225.2 684.0,219.0 684.2,222.6 684.4,221.3 684.6,221.1 684.8,222.7 685.0,222.3 685.2,227.8 685.4,223.7 685.6,223.0 685.8,226.0 686.0,224.5 686.2,218.0 686.4,222.5 686.6,223.9 686.8,220.8 687.0,222.9 687.2,221.2 687.4,223.1 687.6,218.5 687.8,217.8 688.0,221.0 688.2,222.7 688.4,225.2 688.6,221.6 688.8,220.5 689.0,224.3 689.2,222.3 689.4,226.3 689.6,222.0 689.8,217.8 690.0,220.4 690.2,220.0 690.4,219.0 690.6,220.4 690.8,220.6 691.0,221.5 691.2,220.9 691.4,223.1 691.6,223.1 691.8,222.6 692.0,222.6 692.2,217.9 692.4,218.4 692.6,220.2 692.8,222.7 693.0,218.8 693.2,221.2 693.4,222.7 693.6,226.7 693.8,222.8 694.0,221.0 694.2,224.8 694.4,222.9 694.6,221.8 694.8,225.1 695.0,220.7 695.2,223.3 695.4,223.2 695.6,225.3 695.8,220.8 696.0,220.7 696.2,222.9 696.4,223.4 696.6,224.4 696.8,223.6 697.0,225.7 697.2,226.6 697.4,225.8 697.6,223.1 697.8,228.4 698.0,222.5 698.2,225.8 698.4,228.6 698.6,225.4 698.8,230.1 699.0,231.7 699.2,231.2 699.4,228.9 699.6,230.4 699.8,227.3 700.0,229.6 700.2,230.0 700.4,229.4 700.6,229.8 700.8,229.3 701.0,225.6 701.2,231.3 701.4,231.4 701.6,235.7 701.8,232.9 702.0,231.8 702.2,233.9 702.4,233.7 702.6,232.6 702.8,232.1 703.0,230.0 703.2,234.0 703.4,237.8 703.6,230.1 703.8,232.6 704.0,236.9 704.2,235.9 704.4,236.8 704.6,232.0 704.8,235.2 705.0,238.1 705.2,238.7 705.4,238.4 705.6,236.0 705.8,239.6 706.0,236.0 706.2,237.0 706.4,236.8 706.6,243.1 706.8,239.2 707.0,240.6 707.2,235.8 707.4,243.6 707.6,242.5 707.8,237.9 708.0,238.3 708.2,246.1 708.4,240.5 708.6,247.1 708.8,242.1 709.0,237.8 709.2,246.3 709.4,245.2 709.6,245.9 709.8,243.5 710.0,244.5 710.2,247.4 710.4,243.6 710.6,241.3 710.8,248.2 711.0,244.9 711.2,249.6 711.4,245.8 711.6,246.2 711.8,246.9 712.0,242.3 712.2,250.7 712.4,246.8 712.6,248.1 712.8,252.1 713.0,249.3 713.2,251.4 713.4,250.3 713.6,251.6 713.8,250.7 714.0,253.0 714.2,250.1 714.4,251.9 714.6,249.4 714.8,254.0 715.0,246.5 715.2,252.2 715.4,252.8 715.6,253.0 715.8,252.5 716.0,255.8 716.2,257.8 716.4,251.8 716.6,249.0 716.8,251.1 717.0,251.9 717.2,253.7 717.4,254.1 717.6,256.9 717.8,253.7 718.0,254.8 718.2,255.4 718.4,253.3 718.6,254.8 718.8,262.1 719.0,255.7 719.2,253.9 719.4,251.3 719.6,258.9 719.8,256.0 720.0,255.5 720.2,262.8 720.4,260.6 720.6,253.6 720.8,256.9 721.0,260.2 721.2,260.0 721.4,255.7 721.6,262.6 721.8,262.9 722.0,256.3 722.2,255.0 722.4,256.0 722.6,260.9 722.8,262.0 723.0,260.1 723.2,258.5 723.4,259.8 723.6,261.5 723.8,257.6 724.0,256.7 724.2,260.5 724.4,263.7" fill="none" stroke="#8a22ff" stroke-width="1.35" stroke-linejoin="round" clip-path="url(#cb)"/>
<polyline points="413.0,62.8 413.2,60.0 413.4,65.5 413.6,73.6 413.8,75.5 414.0,68.8 414.2,68.1 414.4,69.2 414.6,72.5 414.8,70.7 415.0,65.9 415.2,64.8 415.4,67.8 415.6,66.6 415.8,57.4 416.0,66.3 416.2,64.4 416.4,60.4 416.6,53.1 416.8,65.7 417.0,53.9 417.2,59.7 417.4,56.5 417.6,63.1 417.8,57.6 418.0,54.5 418.2,52.8 418.4,45.2 418.6,67.7 418.8,55.5 419.0,63.3 419.2,52.7 419.4,49.9 419.6,51.2 419.8,48.6 420.0,48.8 420.2,55.5 420.4,50.3 420.6,62.2 420.8,48.5 421.0,45.3 421.2,47.5 421.4,40.4 421.6,45.7 421.8,41.7 422.0,47.4 422.2,41.8 422.4,40.2 422.6,52.9 422.8,38.4 423.0,45.1 423.2,49.1 423.4,46.1 423.6,40.3 423.8,38.4 424.0,50.4 424.2,44.9 424.4,49.9 424.6,49.3 424.8,53.9 425.0,58.3 425.2,58.3 425.4,61.9 425.6,66.9 425.8,62.2 426.0,70.6 426.2,66.4 426.4,75.9 426.6,78.5 426.8,79.7 427.0,81.5 427.2,87.6 427.4,89.8 427.6,94.4 427.8,94.7 428.0,101.6 428.2,100.1 428.4,104.7 428.6,106.9 428.8,113.8 429.0,108.5 429.2,113.8 429.4,120.5 429.6,117.7 429.8,118.3 430.0,124.7 430.2,125.2 430.4,130.4 430.6,127.6 430.8,132.7 431.0,135.9 431.2,138.7 431.4,134.6 431.6,143.2 431.8,138.3 432.0,138.1 432.2,141.0 432.4,145.3 432.6,145.1 432.8,148.3 433.0,149.5 433.2,150.0 433.4,149.5 433.6,156.2 433.8,146.2 434.0,148.5 434.2,152.8 434.4,151.7 434.6,149.1 434.8,154.8 435.0,155.8 435.2,151.9 435.4,161.8 435.6,163.7 435.8,164.2 436.0,160.0 436.2,162.4 436.4,159.4 436.6,163.5 436.8,161.4 437.0,164.7 437.2,162.8 437.4,166.7 437.6,166.2 437.8,167.3 438.0,159.3 438.2,158.6 438.4,164.4 438.6,161.4 438.8,163.7 439.0,163.0 439.2,162.2 439.4,163.7 439.6,162.2 439.8,161.3 440.0,156.9 440.2,163.4 440.4,158.3 440.6,160.2 440.8,157.3 441.0,159.1 441.2,155.1 441.4,154.5 441.6,153.4 441.8,150.0 442.0,149.1 442.2,148.8 442.4,147.1 442.6,142.9 442.8,150.0 443.0,138.6 443.2,138.1 443.4,143.3 443.6,132.2 443.8,133.7 444.0,130.8 444.2,125.9 444.4,120.1 444.6,117.4 444.8,119.3 445.0,118.2 445.2,109.1 445.4,113.3 445.6,108.7 445.8,110.5 446.0,106.0 446.2,100.7 446.4,99.3 446.6,98.4 446.8,99.9 447.0,102.9 447.2,94.2 447.4,92.7 447.6,94.0 447.8,92.4 448.0,94.8 448.2,95.2 448.4,95.4 448.6,94.7 448.8,99.0 449.0,102.8 449.2,102.3 449.4,108.0 449.6,108.1 449.8,106.6 450.0,113.2 450.2,106.8 450.4,114.6 450.6,118.0 450.8,113.7 451.0,115.7 451.2,120.3 451.4,123.4 451.6,122.5 451.8,124.0 452.0,128.3 452.2,129.2 452.4,128.1 452.6,134.1 452.8,137.8 453.0,137.0 453.2,145.5 453.4,145.4 453.6,152.4 453.8,149.0 454.0,152.9 454.2,153.2 454.4,162.2 454.6,163.2 454.8,164.8 455.0,165.8 455.2,165.2 455.4,166.1 455.6,159.8 455.8,166.3 456.0,164.8 456.2,166.0 456.4,164.2 456.6,171.9 456.8,169.3 457.0,165.4 457.2,171.4 457.4,170.2 457.6,168.0 457.8,170.4 458.0,169.4 458.2,165.5 458.4,167.9 458.6,173.7 458.8,173.4 459.0,173.4 459.2,169.6 459.4,171.4 459.6,173.3 459.8,175.2 460.0,171.2 460.2,170.7 460.4,176.9 460.6,174.1 460.8,173.0 461.0,172.2 461.2,172.5 461.4,178.8 461.6,177.2 461.8,173.5 462.0,171.3 462.2,179.5 462.4,179.3 462.6,178.4 462.8,177.5 463.0,170.1 463.2,171.8 463.4,177.0 463.6,174.7 463.8,176.3 464.0,174.3 464.2,174.0 464.4,177.4 464.6,174.9 464.8,176.0 465.0,176.8 465.2,176.9 465.4,179.5 465.6,180.2 465.8,172.7 466.0,175.8 466.2,174.9 466.4,178.8 466.6,173.9 466.8,179.1 467.0,178.9 467.2,178.7 467.4,174.5 467.6,176.7 467.8,174.4 468.0,178.5 468.2,180.1 468.4,173.4 468.6,175.4 468.8,177.3 469.0,176.3 469.2,182.0 469.4,177.5 469.6,178.7 469.8,175.0 470.0,182.4 470.2,178.7 470.4,180.4 470.6,178.6 470.8,172.6 471.0,174.1 471.2,175.0 471.4,179.9 471.6,177.3 471.8,180.0 472.0,179.6 472.2,179.6 472.4,181.5 472.6,179.5 472.8,174.6 473.0,177.3 473.2,183.8 473.4,176.4 473.6,183.1 473.8,184.0 474.0,177.9 474.2,180.6 474.4,175.8 474.6,181.9 474.8,177.7 475.0,176.3 475.2,178.9 475.4,178.8 475.6,178.5 475.8,180.8 476.0,179.8 476.2,178.6 476.4,183.1 476.6,187.2 476.8,180.8 477.0,178.8 477.2,178.1 477.4,182.6 477.6,180.3 477.8,181.2 478.0,175.8 478.2,178.3 478.4,178.3 478.6,184.2 478.8,181.0 479.0,175.1 479.2,183.3 479.4,185.3 479.6,185.9 479.8,174.7 480.0,183.0 480.2,184.9 480.4,184.5 480.6,182.3 480.8,178.1 481.0,182.0 481.2,182.4 481.4,185.0 481.6,185.3 481.8,183.0 482.0,186.1 482.2,181.0 482.4,182.1 482.6,184.0 482.8,185.8 483.0,183.4 483.2,187.7 483.4,185.5 483.6,181.9 483.8,184.8 484.0,182.1 484.2,182.0 484.4,180.7 484.6,188.5 484.8,187.2 485.0,180.3 485.2,187.8 485.4,187.3 485.6,183.6 485.8,186.0 486.0,190.7 486.2,185.2 486.4,185.5 486.6,187.4 486.8,181.3 487.0,180.6 487.2,180.0 487.4,183.6 487.6,186.0 487.8,181.1 488.0,179.5 488.2,183.7 488.4,182.0 488.6,184.5 488.8,182.3 489.0,182.0 489.2,182.0 489.4,182.2 489.6,179.2 489.8,178.5 490.0,185.8 490.2,189.7 490.4,184.0 490.6,176.2 490.8,180.5 491.0,183.4 491.2,175.3 491.4,178.0 491.6,177.7 491.8,175.8 492.0,175.5 492.2,180.0 492.4,175.3 492.6,175.3 492.8,180.0 493.0,172.2 493.2,168.6 493.4,174.9 493.6,177.9 493.8,172.2 494.0,171.8 494.2,166.6 494.4,166.9 494.6,172.8 494.8,171.5 495.0,169.0 495.2,164.9 495.4,162.7 495.6,162.5 495.8,161.6 496.0,166.0 496.2,161.6 496.4,161.9 496.6,164.6 496.8,164.0 497.0,161.7 497.2,162.3 497.4,160.4 497.6,154.4 497.8,159.0 498.0,157.5 498.2,157.1 498.4,158.2 498.6,155.5 498.8,160.0 499.0,155.7 499.2,156.3 499.4,156.4 499.6,154.7 499.8,156.7 500.0,156.8 500.2,156.3 500.4,152.6 500.6,152.0 500.8,152.9 501.0,154.6 501.2,149.6 501.4,152.6 501.6,151.9 501.8,153.5 502.0,153.0 502.2,158.1 502.4,157.4 502.6,159.1 502.8,154.1 503.0,155.0 503.2,156.7 503.4,162.4 503.6,162.9 503.8,156.9 504.0,160.7 504.2,165.3 504.4,157.0 504.6,159.8 504.8,164.4 505.0,163.4 505.2,159.3 505.4,166.9 505.6,166.0 505.8,165.9 506.0,161.3 506.2,164.9 506.4,169.6 506.6,168.0 506.8,169.4 507.0,167.1 507.2,172.5 507.4,168.1 507.6,171.7 507.8,170.4 508.0,167.2 508.2,174.2 508.4,166.9 508.6,168.6 508.8,171.3 509.0,167.3 509.2,166.5 509.4,171.4 509.6,170.8 509.8,171.4 510.0,173.8 510.2,178.9 510.4,171.8 510.6,179.9 510.8,174.1 511.0,173.4 511.2,166.4 511.4,169.9 511.6,175.0 511.8,176.1 512.0,172.5 512.2,175.8 512.4,177.6 512.6,173.8 512.8,171.1 513.0,173.1 513.2,175.1 513.4,176.9 513.6,178.5 513.8,174.0 514.0,176.8 514.2,176.2 514.4,177.2 514.6,180.3 514.8,181.0 515.0,176.3 515.2,176.1 515.4,176.0 515.6,176.6 515.8,177.1 516.0,177.9 516.2,177.1 516.4,175.7 516.6,175.5 516.8,179.0 517.0,185.7 517.2,180.6 517.4,181.0 517.6,180.3 517.8,179.0 518.0,185.0 518.2,178.7 518.4,177.0 518.6,176.3 518.8,180.3 519.0,177.1 519.2,177.5 519.4,177.6 519.6,176.4 519.8,180.5 520.0,175.5 520.2,186.4 520.4,172.6 520.6,176.4 520.8,180.4 521.0,181.4 521.2,179.3 521.4,181.0 521.6,180.7 521.8,180.6 522.0,181.8 522.2,180.9 522.4,179.9 522.6,179.8 522.8,182.6 523.0,179.6 523.2,181.6 523.4,184.4 523.6,181.0 523.8,183.2 524.0,178.7 524.2,180.5 524.4,181.1 524.6,180.3 524.8,180.9 525.0,183.4 525.2,178.5 525.4,177.5 525.6,180.1 525.8,175.1 526.0,179.0 526.2,182.2 526.4,178.8 526.6,180.2 526.8,179.6 527.0,181.8 527.2,179.7 527.4,178.8 527.6,168.9 527.8,176.5 528.0,179.8 528.2,177.3 528.4,175.5 528.6,179.9 528.8,174.8 529.0,176.2 529.2,178.8 529.4,175.4 529.6,177.1 529.8,176.4 530.0,173.0 530.2,174.7 530.4,175.0 530.6,174.0 530.8,178.6 531.0,175.4 531.2,173.5 531.4,171.3 531.6,174.0 531.8,178.3 532.0,173.7 532.2,176.4 532.4,175.3 532.6,172.3 532.8,170.8 533.0,174.5 533.2,168.1 533.4,173.9 533.6,168.6 533.8,173.8 534.0,169.9 534.2,170.3 534.4,172.9 534.6,166.8 534.8,169.2 535.0,167.6 535.2,169.3 535.4,169.3 535.6,167.6 535.8,166.7 536.0,164.4 536.2,166.6 536.4,163.7 536.6,164.0 536.8,163.5 537.0,158.6 537.2,158.6 537.4,161.7 537.6,160.4 537.8,163.2 538.0,152.4 538.2,159.0 538.4,160.7 538.6,157.3 538.8,158.6 539.0,155.8 539.2,155.0 539.4,156.9 539.6,150.3 539.8,147.0 540.0,153.8 540.2,152.1 540.4,151.4 540.6,151.2 540.8,151.4 541.0,147.6 541.2,149.4 541.4,148.2 541.6,143.4 541.8,145.4 542.0,145.7 542.2,142.0 542.4,146.2 542.6,141.7 542.8,143.9 543.0,144.8 543.2,135.9 543.4,135.5 543.6,139.9 543.8,136.9 544.0,138.0 544.2,140.4 544.4,133.5 544.6,136.4 544.8,132.4 545.0,130.5 545.2,132.7 545.4,131.3 545.6,132.7 545.8,129.8 546.0,130.5 546.2,128.7 546.4,121.8 546.6,124.7 546.8,124.0 547.0,126.5 547.2,120.5 547.4,123.1 547.6,120.7 547.8,116.1 548.0,119.8 548.2,121.1 548.4,117.5 548.6,120.1 548.8,117.7 549.0,116.6 549.2,113.4 549.4,113.4 549.6,114.2 549.8,112.1 550.0,107.8 550.2,109.8 550.4,110.5 550.6,111.7 550.8,110.2 551.0,104.5 551.2,108.4 551.4,101.5 551.6,103.6 551.8,102.6 552.0,108.6 552.2,106.0 552.4,104.7 552.6,102.1 552.8,107.1 553.0,103.2 553.2,105.6 553.4,108.0 553.6,105.1 553.8,108.5 554.0,103.0 554.2,111.5 554.4,106.9 554.6,114.4 554.8,115.9 555.0,118.3 555.2,125.3 555.4,114.2 555.6,124.2 555.8,123.8 556.0,128.9 556.2,129.6 556.4,130.7 556.6,130.7 556.8,131.6 557.0,136.1 557.2,132.6 557.4,141.3 557.6,138.4 557.8,142.9 558.0,140.1 558.2,146.3 558.4,146.1 558.6,150.5 558.8,153.5 559.0,150.3 559.2,153.8 559.4,155.8 559.6,160.8 559.8,154.8 560.0,161.6 560.2,161.4 560.4,159.6 560.6,163.4 560.8,163.9 561.0,170.1 561.2,165.7 561.4,172.2 561.6,169.2 561.8,173.4 562.0,167.7 562.2,171.2 562.4,174.5 562.6,172.4 562.8,171.4 563.0,176.6 563.2,179.4 563.4,178.1 563.6,178.2 563.8,180.6 564.0,179.0 564.2,183.4 564.4,184.5 564.6,178.7 564.8,185.6 565.0,185.2 565.2,184.7 565.4,186.4 565.6,188.9 565.8,190.8 566.0,190.4 566.2,185.7 566.4,190.5 566.6,182.6 566.8,190.1 567.0,189.9 567.2,190.9 567.4,186.0 567.6,192.7 567.8,192.5 568.0,189.8 568.2,185.6 568.4,190.6 568.6,187.6 568.8,185.9 569.0,188.4 569.2,197.1 569.4,186.8 569.6,190.1 569.8,191.7 570.0,193.9 570.2,188.8 570.4,189.0 570.6,194.3 570.8,192.8 571.0,195.6 571.2,189.2 571.4,192.2 571.6,195.2 571.8,193.2 572.0,189.9 572.2,193.5 572.4,188.1 572.6,191.3 572.8,195.7 573.0,196.1 573.2,194.9 573.4,195.8 573.6,189.9 573.8,192.4 574.0,197.2 574.2,200.7 574.4,195.8 574.6,192.2 574.8,192.2 575.0,198.2 575.2,198.0 575.4,191.9 575.6,195.7 575.8,199.2 576.0,199.4 576.2,194.2 576.4,195.3 576.6,197.1 576.8,193.0 577.0,191.6 577.2,194.3 577.4,199.6 577.6,199.4 577.8,197.8 578.0,193.4 578.2,191.4 578.4,194.0 578.6,197.0 578.8,199.9 579.0,194.7 579.2,197.5 579.4,192.4 579.6,191.7 579.8,197.6 580.0,194.4 580.2,194.9 580.4,191.6 580.6,200.2 580.8,193.1 581.0,198.2 581.2,194.1 581.4,197.3 581.6,202.1 581.8,199.2 582.0,198.9 582.2,201.2 582.4,200.3 582.6,202.7 582.8,195.0 583.0,202.8 583.2,199.4 583.4,196.5 583.6,201.1 583.8,201.0 584.0,199.6 584.2,202.1 584.4,196.2 584.6,195.4 584.8,198.4 585.0,203.1 585.2,201.7 585.4,200.3 585.6,198.7 585.8,200.5 586.0,203.8 586.2,199.2 586.4,199.2 586.6,202.1 586.8,202.8 587.0,201.5 587.2,205.2 587.4,201.9 587.6,198.8 587.8,195.5 588.0,204.9 588.2,201.3 588.4,202.8 588.6,203.2 588.8,205.8 589.0,205.1 589.2,205.1 589.4,203.2 589.6,201.9 589.8,203.4 590.0,200.5 590.2,203.9 590.4,205.9 590.6,205.1 590.8,203.6 591.0,200.9 591.2,201.0 591.4,201.6 591.6,202.5 591.8,205.0 592.0,205.2 592.2,205.6 592.4,206.9 592.6,201.6 592.8,203.8 593.0,205.9 593.2,206.8 593.4,202.9 593.6,203.0 593.8,208.2 594.0,207.1 594.2,206.7 594.4,204.8 594.6,203.2 594.8,205.9 595.0,207.0 595.2,207.7 595.4,208.9 595.6,207.0 595.8,210.3 596.0,206.1 596.2,208.1 596.4,207.5 596.6,202.6 596.8,204.1 597.0,206.4 597.2,208.4 597.4,209.0 597.6,211.8 597.8,208.4 598.0,207.6 598.2,209.5 598.4,205.4 598.6,208.3 598.8,206.2 599.0,209.2 599.2,207.2 599.4,208.0 599.6,214.4 599.8,212.3 600.0,216.1 600.2,209.8 600.4,208.8 600.6,207.1 600.8,209.2 601.0,204.5 601.2,209.5 601.4,207.7 601.6,205.6 601.8,204.3 602.0,206.7 602.2,208.1 602.4,209.1 602.6,204.7 602.8,209.0 603.0,210.0 603.2,215.2 603.4,210.1 603.6,211.6 603.8,207.1 604.0,209.1 604.2,207.0 604.4,206.7 604.6,210.4 604.8,208.4 605.0,212.9 605.2,208.8 605.4,210.0 605.6,205.4 605.8,205.9 606.0,210.3 606.2,206.4 606.4,211.6 606.6,205.6 606.8,205.2 607.0,212.7 607.2,202.5 607.4,205.4 607.6,207.9 607.8,207.8 608.0,202.8 608.2,211.4 608.4,204.0 608.6,199.6 608.8,207.0 609.0,202.9 609.2,204.0 609.4,205.6 609.6,200.7 609.8,200.8 610.0,202.2 610.2,204.5 610.4,198.2 610.6,205.5 610.8,202.3 611.0,197.9 611.2,200.9 611.4,202.1 611.6,203.7 611.8,202.5 612.0,203.0 612.2,199.4 612.4,201.7 612.6,192.3 612.8,202.3 613.0,199.3 613.2,203.7 613.4,197.6 613.6,197.9 613.8,199.2 614.0,201.3 614.2,199.9 614.4,201.8 614.6,199.0 614.8,201.7 615.0,206.5 615.2,202.1 615.4,200.4 615.6,194.6 615.8,200.3 616.0,201.5 616.2,198.0 616.4,201.3 616.6,192.4 616.8,196.5 617.0,195.8 617.2,199.8 617.4,196.1 617.6,195.6 617.8,202.2 618.0,194.2 618.2,199.5 618.4,201.0 618.6,197.2 618.8,195.4 619.0,197.3 619.2,196.2 619.4,195.5 619.6,198.3 619.8,197.5 620.0,206.1 620.2,201.0 620.4,197.8 620.6,198.8 620.8,201.8 621.0,200.3 621.2,197.1 621.4,194.7 621.6,201.5 621.8,196.5 622.0,197.0 622.2,200.0 622.4,196.5 622.6,199.4 622.8,194.8 623.0,196.0 623.2,194.7 623.4,200.8 623.6,190.8 623.8,194.0 624.0,191.8 624.2,192.0 624.4,190.2 624.6,191.2 624.8,196.5 625.0,196.8 625.2,190.7 625.4,188.9 625.6,190.6 625.8,196.1 626.0,191.1 626.2,185.1 626.4,192.9 626.6,189.9 626.8,191.6 627.0,190.7 627.2,185.7 627.4,191.7 627.6,190.3 627.8,186.3 628.0,181.5 628.2,184.2 628.4,183.9 628.6,188.5 628.8,184.6 629.0,184.6 629.2,185.4 629.4,183.6 629.6,185.4 629.8,184.6 630.0,185.8 630.2,179.2 630.4,182.9 630.6,180.5 630.8,186.4 631.0,183.9 631.2,178.1 631.4,181.1 631.6,172.9 631.8,174.1 632.0,175.5 632.2,176.2 632.4,171.7 632.6,174.1 632.8,176.7 633.0,168.1 633.2,168.1 633.4,165.8 633.6,173.5 633.8,166.7 634.0,167.9 634.2,165.9 634.4,167.5 634.6,166.2 634.8,167.1 635.0,166.5 635.2,169.9 635.4,162.5 635.6,165.1 635.8,163.9 636.0,161.1 636.2,165.4 636.4,167.6 636.6,159.0 636.8,168.3 637.0,160.7 637.2,160.4 637.4,153.0 637.6,160.0 637.8,159.1 638.0,158.5 638.2,160.8 638.4,158.3 638.6,159.7 638.8,156.8 639.0,155.6 639.2,159.2 639.4,160.8 639.6,161.5 639.8,160.4 640.0,158.6 640.2,161.4 640.4,161.3 640.6,159.3 640.8,164.4 641.0,163.8 641.2,162.1 641.4,165.1 641.6,168.3 641.8,171.6 642.0,163.2 642.2,168.1 642.4,171.5 642.6,174.2 642.8,173.1 643.0,170.4 643.2,173.0 643.4,175.4 643.6,174.6 643.8,175.1 644.0,175.8 644.2,187.7 644.4,182.1 644.6,182.6 644.8,186.5 645.0,186.1 645.2,186.8 645.4,189.1 645.6,187.5 645.8,189.7 646.0,194.4 646.2,194.7 646.4,190.9 646.6,199.0 646.8,194.6 647.0,192.0 647.2,199.0 647.4,199.4 647.6,199.1 647.8,196.1 648.0,202.6 648.2,201.3 648.4,201.3 648.6,201.5 648.8,202.4 649.0,208.0 649.2,201.0 649.4,203.6 649.6,206.4 649.8,205.8 650.0,202.0 650.2,204.2 650.4,203.8 650.6,201.2 650.8,205.0 651.0,208.5 651.2,207.0 651.4,209.5 651.6,207.9 651.8,205.0 652.0,208.7 652.2,202.6 652.4,211.0 652.6,206.7 652.8,212.5 653.0,204.3 653.2,205.5 653.4,207.2 653.6,207.8 653.8,204.3 654.0,205.3 654.2,210.3 654.4,206.8 654.6,211.6 654.8,213.9 655.0,205.4 655.2,208.6 655.4,214.6 655.6,212.9 655.8,206.3 656.0,211.2 656.2,214.9 656.4,204.5 656.6,211.5 656.8,213.6 657.0,209.4 657.2,209.1 657.4,213.0 657.6,206.6 657.8,212.6 658.0,214.6 658.2,211.5 658.4,207.0 658.6,215.7 658.8,211.3 659.0,213.0 659.2,209.1 659.4,211.3 659.6,214.6 659.8,207.4 660.0,207.9 660.2,205.8 660.4,212.8 660.6,212.8 660.8,209.2 661.0,212.5 661.2,211.6 661.4,216.8 661.6,208.1 661.8,212.1 662.0,210.1 662.2,216.3 662.4,212.4 662.6,207.8 662.8,212.2 663.0,210.5 663.2,208.2 663.4,211.8 663.6,211.0 663.8,207.2 664.0,209.1 664.2,213.4 664.4,212.9 664.6,209.6 664.8,208.9 665.0,210.5 665.2,209.3 665.4,206.1 665.6,211.1 665.8,207.0 666.0,213.1 666.2,210.6 666.4,210.8 666.6,207.8 666.8,209.0 667.0,206.8 667.2,207.2 667.4,205.3 667.6,211.9 667.8,204.8 668.0,212.4 668.2,209.7 668.4,205.0 668.6,211.0 668.8,208.4 669.0,204.9 669.2,207.6 669.4,205.9 669.6,204.5 669.8,206.3 670.0,207.0 670.2,205.2 670.4,205.8 670.6,207.9 670.8,205.2 671.0,204.3 671.2,201.6 671.4,204.8 671.6,203.5 671.8,204.0 672.0,206.6 672.2,206.6 672.4,204.1 672.6,202.2 672.8,204.0 673.0,204.3 673.2,203.9 673.4,199.1 673.6,203.7 673.8,199.9 674.0,203.4 674.2,203.5 674.4,202.6 674.6,205.3 674.8,201.9 675.0,202.6 675.2,199.2 675.4,201.2 675.6,200.7 675.8,201.4 676.0,200.6 676.2,194.5 676.4,203.1 676.6,202.7 676.8,195.0 677.0,201.4 677.2,203.4 677.4,202.5 677.6,202.4 677.8,199.9 678.0,198.9 678.2,205.5 678.4,201.4 678.6,204.6 678.8,199.9 679.0,202.6 679.2,202.2 679.4,202.1 679.6,196.5 679.8,206.3 680.0,200.6 680.2,198.8 680.4,200.5 680.6,194.8 680.8,203.4 681.0,198.5 681.2,200.3 681.4,200.0 681.6,194.6 681.8,198.5 682.0,202.7 682.2,197.1 682.4,199.9 682.6,201.9 682.8,203.4 683.0,196.7 683.2,201.8 683.4,200.8 683.6,200.3 683.8,201.4 684.0,200.7 684.2,195.9 684.4,199.9 684.6,196.8 684.8,199.2 685.0,197.1 685.2,202.2 685.4,200.5 685.6,199.2 685.8,195.8 686.0,198.7 686.2,194.3 686.4,194.8 686.6,192.5 686.8,199.3 687.0,195.3 687.2,199.0 687.4,199.5 687.6,199.0 687.8,195.0 688.0,199.9 688.2,199.0 688.4,192.2 688.6,196.5 688.8,193.2 689.0,194.9 689.2,198.5 689.4,195.9 689.6,199.3 689.8,196.6 690.0,196.9 690.2,199.3 690.4,198.1 690.6,196.9 690.8,198.5 691.0,198.1 691.2,191.0 691.4,192.0 691.6,195.1 691.8,198.0 692.0,193.0 692.2,190.6 692.4,195.1 692.6,193.8 692.8,199.6 693.0,189.2 693.2,198.1 693.4,197.8 693.6,188.9 693.8,193.6 694.0,195.9 694.2,197.8 694.4,197.0 694.6,198.9 694.8,198.0 695.0,195.6 695.2,202.7 695.4,199.3 695.6,196.7 695.8,200.9 696.0,199.8 696.2,199.7 696.4,199.8 696.6,198.2 696.8,200.6 697.0,200.3 697.2,199.2 697.4,206.7 697.6,207.1 697.8,206.5 698.0,204.9 698.2,206.7 698.4,214.0 698.6,208.1 698.8,213.7 699.0,213.1 699.2,214.3 699.4,212.4 699.6,213.8 699.8,214.9 700.0,212.7 700.2,220.0 700.4,214.6 700.6,218.0 700.8,222.9 701.0,222.7 701.2,217.6 701.4,221.2 701.6,223.2 701.8,215.6 702.0,227.2 702.2,223.6 702.4,221.9 702.6,223.1 702.8,217.7 703.0,226.3 703.2,229.3 703.4,225.0 703.6,230.5 703.8,228.5 704.0,223.4 704.2,229.2 704.4,222.6 704.6,223.5 704.8,231.0 705.0,231.3 705.2,230.0 705.4,230.5 705.6,227.0 705.8,234.5 706.0,232.2 706.2,232.2 706.4,243.1 706.6,234.5 706.8,234.2 707.0,240.3 707.2,236.0 707.4,234.4 707.6,240.4 707.8,236.3 708.0,234.9 708.2,236.6 708.4,238.1 708.6,241.1 708.8,242.5 709.0,236.1 709.2,243.3 709.4,238.6 709.6,239.5 709.8,234.0 710.0,246.1 710.2,243.6 710.4,241.8 710.6,242.4 710.8,245.9 711.0,243.7 711.2,235.9 711.4,245.2 711.6,244.8 711.8,245.6 712.0,245.8 712.2,248.4 712.4,244.4 712.6,253.2 712.8,247.6 713.0,245.6 713.2,248.3 713.4,243.6 713.6,248.3 713.8,247.1 714.0,246.8 714.2,252.1 714.4,251.1 714.6,247.9 714.8,249.3 715.0,252.3 715.2,258.1 715.4,251.7 715.6,252.0 715.8,254.1 716.0,249.7 716.2,253.3 716.4,255.9 716.6,255.3 716.8,255.6 717.0,251.6 717.2,255.4 717.4,259.7 717.6,263.5 717.8,259.2 718.0,255.3 718.2,255.9 718.4,257.0 718.6,263.8 718.8,254.5 719.0,257.9 719.2,254.3 719.4,258.1 719.6,258.7 719.8,262.4 720.0,262.5 720.2,261.2 720.4,260.1 720.6,260.1 720.8,266.1 721.0,261.6 721.2,259.1 721.4,260.4 721.6,262.9 721.8,261.0 722.0,259.1 722.2,266.4 722.4,262.2 722.6,264.0 722.8,265.0 723.0,264.3 723.2,264.8 723.4,258.5 723.6,266.0 723.8,265.6 724.0,265.4 724.2,266.6 724.4,273.2" fill="none" stroke="#12f212" stroke-width="1.35" stroke-linejoin="round" clip-path="url(#cb)"/>
<polyline points="413.0,50.3 413.2,49.4 413.4,49.2 413.6,39.4 413.8,49.0 414.0,43.6 414.2,46.3 414.4,55.1 414.6,44.4 414.8,40.7 415.0,46.9 415.2,43.7 415.4,40.5 415.6,45.3 415.8,49.8 416.0,40.9 416.2,45.2 416.4,48.4 416.6,44.6 416.8,40.0 417.0,42.7 417.2,47.1 417.4,47.3 417.6,43.7 417.8,50.5 418.0,52.2 418.2,38.4 418.4,48.0 418.6,41.7 418.8,47.5 419.0,41.2 419.2,51.6 419.4,45.0 419.6,48.1 419.8,44.5 420.0,45.9 420.2,51.4 420.4,44.3 420.6,46.1 420.8,46.1 421.0,44.0 421.2,38.5 421.4,41.4 421.6,41.7 421.8,47.9 422.0,41.2 422.2,49.7 422.4,38.4 422.6,42.7 422.8,48.2 423.0,42.8 423.2,40.6 423.4,42.1 423.6,46.3 423.8,44.1 424.0,43.1 424.2,44.7 424.4,47.7 424.6,50.8 424.8,47.1 425.0,50.7 425.2,50.6 425.4,53.5 425.6,51.9 425.8,54.9 426.0,57.6 426.2,62.4 426.4,65.5 426.6,62.4 426.8,66.7 427.0,73.5 427.2,70.6 427.4,77.9 427.6,82.4 427.8,89.3 428.0,91.6 428.2,92.8 428.4,96.2 428.6,99.8 428.8,107.2 429.0,105.4 429.2,108.3 429.4,112.3 429.6,113.5 429.8,115.6 430.0,115.7 430.2,120.6 430.4,121.8 430.6,127.8 430.8,128.7 431.0,129.2 431.2,132.9 431.4,132.4 431.6,137.7 431.8,137.0 432.0,140.2 432.2,137.5 432.4,143.1 432.6,139.9 432.8,140.6 433.0,146.2 433.2,146.2 433.4,150.2 433.6,156.5 433.8,150.4 434.0,152.2 434.2,155.4 434.4,157.2 434.6,156.8 434.8,157.8 435.0,161.1 435.2,161.7 435.4,159.0 435.6,162.3 435.8,163.6 436.0,162.0 436.2,166.1 436.4,164.3 436.6,169.6 436.8,168.6 437.0,169.3 437.2,168.5 437.4,170.7 437.6,167.2 437.8,170.2 438.0,174.6 438.2,169.2 438.4,176.5 438.6,170.2 438.8,175.9 439.0,171.5 439.2,174.7 439.4,172.3 439.6,167.3 439.8,172.9 440.0,172.1 440.2,167.1 440.4,165.2 440.6,164.0 440.8,160.5 441.0,163.9 441.2,158.4 441.4,158.0 441.6,154.6 441.8,153.5 442.0,150.4 442.2,154.8 442.4,149.7 442.6,150.5 442.8,146.3 443.0,142.6 443.2,141.4 443.4,138.7 443.6,137.8 443.8,134.6 444.0,132.4 444.2,127.5 444.4,126.4 444.6,129.8 444.8,121.6 445.0,118.1 445.2,118.8 445.4,118.7 445.6,108.6 445.8,107.9 446.0,102.8 446.2,95.8 446.4,97.4 446.6,91.1 446.8,86.9 447.0,80.7 447.2,79.6 447.4,73.7 447.6,71.6 447.8,66.8 448.0,64.8 448.2,70.0 448.4,65.7 448.6,69.6 448.8,72.3 449.0,75.8 449.2,80.7 449.4,88.8 449.6,91.5 449.8,96.3 450.0,101.4 450.2,109.2 450.4,113.2 450.6,117.7 450.8,120.6 451.0,123.6 451.2,134.0 451.4,138.4 451.6,139.6 451.8,144.6 452.0,148.4 452.2,151.7 452.4,154.9 452.6,154.6 452.8,162.1 453.0,158.2 453.2,165.7 453.4,167.2 453.6,170.3 453.8,174.7 454.0,175.6 454.2,170.9 454.4,170.9 454.6,178.2 454.8,175.0 455.0,178.5 455.2,181.6 455.4,176.7 455.6,176.6 455.8,183.2 456.0,183.6 456.2,183.8 456.4,185.3 456.6,183.9 456.8,183.1 457.0,187.1 457.2,185.8 457.4,184.8 457.6,190.5 457.8,189.7 458.0,191.4 458.2,188.5 458.4,189.7 458.6,189.3 458.8,189.9 459.0,192.9 459.2,190.9 459.4,194.0 459.6,194.3 459.8,198.7 460.0,190.8 460.2,196.5 460.4,194.5 460.6,195.0 460.8,191.8 461.0,194.4 461.2,197.6 461.4,195.9 461.6,196.5 461.8,195.8 462.0,199.5 462.2,196.9 462.4,191.9 462.6,195.8 462.8,192.9 463.0,190.0 463.2,196.7 463.4,201.4 463.6,198.5 463.8,195.8 464.0,196.5 464.2,201.6 464.4,199.5 464.6,199.4 464.8,199.3 465.0,199.6 465.2,201.6 465.4,201.2 465.6,200.5 465.8,197.6 466.0,201.5 466.2,198.8 466.4,203.2 466.6,197.6 466.8,200.5 467.0,200.9 467.2,197.9 467.4,205.3 467.6,204.8 467.8,200.3 468.0,203.4 468.2,202.5 468.4,195.5 468.6,202.4 468.8,201.8 469.0,202.2 469.2,199.5 469.4,201.6 469.6,201.9 469.8,205.3 470.0,203.3 470.2,202.6 470.4,206.4 470.6,201.4 470.8,201.9 471.0,198.6 471.2,206.8 471.4,205.4 471.6,205.4 471.8,204.9 472.0,203.6 472.2,204.0 472.4,202.9 472.6,203.1 472.8,203.8 473.0,207.4 473.2,205.2 473.4,203.8 473.6,202.7 473.8,202.6 474.0,208.1 474.2,205.5 474.4,204.6 474.6,203.7 474.8,201.9 475.0,204.5 475.2,206.9 475.4,204.0 475.6,204.5 475.8,204.6 476.0,205.5 476.2,201.5 476.4,204.9 476.6,203.5 476.8,207.8 477.0,203.9 477.2,207.3 477.4,209.7 477.6,205.4 477.8,204.9 478.0,207.0 478.2,206.6 478.4,204.4 478.6,208.1 478.8,212.0 479.0,206.7 479.2,207.0 479.4,205.2 479.6,208.6 479.8,205.0 480.0,205.6 480.2,211.5 480.4,206.4 480.6,211.3 480.8,212.6 481.0,209.7 481.2,210.6 481.4,214.1 481.6,209.1 481.8,208.3 482.0,206.6 482.2,210.1 482.4,213.7 482.6,212.6 482.8,208.1 483.0,208.5 483.2,209.4 483.4,211.4 483.6,210.3 483.8,211.4 484.0,211.7 484.2,210.3 484.4,210.9 484.6,211.6 484.8,210.9 485.0,212.3 485.2,215.6 485.4,212.5 485.6,211.2 485.8,207.0 486.0,211.9 486.2,206.3 486.4,207.5 486.6,212.9 486.8,212.5 487.0,210.4 487.2,206.6 487.4,209.7 487.6,208.9 487.8,212.0 488.0,215.8 488.2,210.8 488.4,208.3 488.6,207.2 488.8,209.8 489.0,209.4 489.2,206.9 489.4,209.8 489.6,206.6 489.8,211.7 490.0,211.3 490.2,210.9 490.4,206.7 490.6,208.6 490.8,206.6 491.0,205.4 491.2,205.0 491.4,202.1 491.6,201.2 491.8,206.0 492.0,203.0 492.2,203.4 492.4,204.7 492.6,197.6 492.8,199.3 493.0,201.1 493.2,201.2 493.4,198.9 493.6,201.8 493.8,199.4 494.0,195.5 494.2,195.8 494.4,199.5 494.6,198.2 494.8,192.1 495.0,199.4 495.2,197.2 495.4,198.5 495.6,193.9 495.8,193.7 496.0,191.3 496.2,199.6 496.4,192.7 496.6,196.5 496.8,190.8 497.0,192.3 497.2,187.5 497.4,190.3 497.6,193.2 497.8,187.5 498.0,192.7 498.2,190.7 498.4,187.0 498.6,188.1 498.8,187.9 499.0,188.7 499.2,187.2 499.4,186.3 499.6,187.3 499.8,185.3 500.0,184.5 500.2,187.3 500.4,189.4 500.6,183.4 500.8,187.0 501.0,185.4 501.2,184.7 501.4,189.2 501.6,186.0 501.8,191.0 502.0,185.8 502.2,188.8 502.4,187.6 502.6,186.6 502.8,190.1 503.0,188.6 503.2,190.7 503.4,189.5 503.6,187.4 503.8,190.2 504.0,191.1 504.2,193.7 504.4,189.8 504.6,192.4 504.8,188.9 505.0,195.2 505.2,191.7 505.4,190.5 505.6,195.3 505.8,198.7 506.0,193.0 506.2,194.7 506.4,196.1 506.6,195.7 506.8,199.9 507.0,197.6 507.2,198.3 507.4,201.8 507.6,199.0 507.8,202.3 508.0,199.2 508.2,199.0 508.4,197.8 508.6,207.0 508.8,202.1 509.0,203.7 509.2,203.4 509.4,204.1 509.6,204.1 509.8,208.9 510.0,202.1 510.2,201.1 510.4,202.7 510.6,202.2 510.8,207.5 511.0,207.9 511.2,203.9 511.4,203.1 511.6,205.8 511.8,210.2 512.0,200.4 512.2,208.6 512.4,205.0 512.6,210.3 512.8,205.4 513.0,207.5 513.2,204.8 513.4,206.3 513.6,212.1 513.8,211.0 514.0,208.2 514.2,207.3 514.4,205.0 514.6,208.8 514.8,209.8 515.0,209.8 515.2,209.9 515.4,207.6 515.6,210.3 515.8,210.5 516.0,213.8 516.2,215.4 516.4,210.7 516.6,209.3 516.8,211.1 517.0,210.0 517.2,209.8 517.4,211.6 517.6,209.3 517.8,213.4 518.0,211.8 518.2,212.8 518.4,211.9 518.6,210.7 518.8,210.3 519.0,212.1 519.2,211.4 519.4,213.4 519.6,212.9 519.8,209.7 520.0,213.2 520.2,209.9 520.4,211.7 520.6,212.5 520.8,208.2 521.0,213.4 521.2,213.6 521.4,212.8 521.6,212.1 521.8,212.2 522.0,210.7 522.2,212.3 522.4,211.5 522.6,213.0 522.8,209.7 523.0,213.1 523.2,212.7 523.4,211.9 523.6,211.0 523.8,213.2 524.0,207.7 524.2,212.6 524.4,211.9 524.6,211.8 524.8,211.8 525.0,209.2 525.2,209.9 525.4,211.8 525.6,211.1 525.8,210.4 526.0,206.1 526.2,210.8 526.4,212.1 526.6,211.5 526.8,209.4 527.0,204.9 527.2,210.7 527.4,207.9 527.6,201.9 527.8,208.6 528.0,203.9 528.2,204.1 528.4,205.4 528.6,209.7 528.8,205.5 529.0,206.7 529.2,210.0 529.4,209.3 529.6,204.9 529.8,204.2 530.0,201.5 530.2,202.5 530.4,204.9 530.6,204.4 530.8,203.4 531.0,205.2 531.2,200.6 531.4,201.9 531.6,203.4 531.8,202.7 532.0,203.5 532.2,201.5 532.4,199.4 532.6,200.6 532.8,196.9 533.0,195.0 533.2,199.9 533.4,197.9 533.6,198.4 533.8,193.1 534.0,195.9 534.2,194.9 534.4,193.8 534.6,190.0 534.8,194.1 535.0,196.6 535.2,194.8 535.4,191.9 535.6,192.8 535.8,194.0 536.0,185.0 536.2,190.7 536.4,191.7 536.6,191.4 536.8,193.2 537.0,191.2 537.2,188.5 537.4,187.8 537.6,188.3 537.8,184.4 538.0,184.9 538.2,186.5 538.4,188.3 538.6,182.5 538.8,182.0 539.0,181.9 539.2,183.9 539.4,179.8 539.6,182.7 539.8,176.1 540.0,177.2 540.2,176.5 540.4,178.1 540.6,178.0 540.8,171.1 541.0,171.8 541.2,174.1 541.4,171.0 541.6,168.2 541.8,173.6 542.0,171.6 542.2,170.9 542.4,167.9 542.6,170.8 542.8,167.0 543.0,169.5 543.2,164.0 543.4,163.4 543.6,165.2 543.8,162.3 544.0,164.8 544.2,163.1 544.4,159.5 544.6,161.2 544.8,159.4 545.0,161.7 545.2,157.3 545.4,157.0 545.6,160.2 545.8,161.9 546.0,160.6 546.2,155.2 546.4,154.9 546.6,157.3 546.8,152.6 547.0,149.8 547.2,151.7 547.4,151.8 547.6,148.1 547.8,145.4 548.0,145.2 548.2,149.6 548.4,145.5 548.6,146.3 548.8,146.5 549.0,146.8 549.2,143.8 549.4,145.1 549.6,141.0 549.8,141.5 550.0,139.1 550.2,143.5 550.4,139.9 550.6,137.4 550.8,137.6 551.0,137.2 551.2,138.7 551.4,132.6 551.6,133.4 551.8,134.4 552.0,141.0 552.2,136.9 552.4,134.0 552.6,135.9 552.8,139.0 553.0,133.7 553.2,133.8 553.4,138.2 553.6,137.4 553.8,138.9 554.0,137.4 554.2,144.6 554.4,145.6 554.6,144.5 554.8,146.4 555.0,141.6 555.2,149.7 555.4,149.4 555.6,152.6 555.8,154.8 556.0,153.8 556.2,152.2 556.4,158.8 556.6,158.0 556.8,160.8 557.0,162.0 557.2,164.6 557.4,161.9 557.6,172.3 557.8,172.0 558.0,176.0 558.2,180.0 558.4,177.2 558.6,174.7 558.8,178.6 559.0,179.6 559.2,182.8 559.4,185.7 559.6,182.1 559.8,189.1 560.0,186.1 560.2,191.8 560.4,192.2 560.6,193.1 560.8,195.0 561.0,195.3 561.2,196.4 561.4,195.1 561.6,200.4 561.8,206.1 562.0,207.6 562.2,207.2 562.4,206.9 562.6,204.7 562.8,210.8 563.0,208.3 563.2,209.2 563.4,209.6 563.6,211.4 563.8,210.9 564.0,212.5 564.2,210.8 564.4,213.1 564.6,220.1 564.8,215.0 565.0,215.1 565.2,217.4 565.4,218.3 565.6,214.4 565.8,217.0 566.0,220.1 566.2,219.0 566.4,219.0 566.6,222.8 566.8,217.9 567.0,220.0 567.2,218.9 567.4,224.1 567.6,216.1 567.8,219.5 568.0,220.2 568.2,223.3 568.4,223.5 568.6,225.6 568.8,218.8 569.0,224.6 569.2,222.3 569.4,221.7 569.6,224.8 569.8,221.5 570.0,218.9 570.2,223.2 570.4,220.7 570.6,222.9 570.8,225.6 571.0,225.6 571.2,228.9 571.4,224.8 571.6,221.7 571.8,223.8 572.0,223.6 572.2,223.0 572.4,227.1 572.6,224.7 572.8,221.6 573.0,228.2 573.2,226.4 573.4,227.7 573.6,227.2 573.8,228.6 574.0,227.4 574.2,230.4 574.4,228.6 574.6,228.6 574.8,228.8 575.0,224.4 575.2,227.7 575.4,227.5 575.6,228.8 575.8,225.2 576.0,232.5 576.2,228.9 576.4,225.9 576.6,224.8 576.8,228.3 577.0,228.9 577.2,227.5 577.4,229.6 577.6,227.9 577.8,230.9 578.0,228.0 578.2,229.7 578.4,232.3 578.6,236.2 578.8,227.7 579.0,229.2 579.2,228.4 579.4,232.4 579.6,227.9 579.8,229.6 580.0,230.8 580.2,228.6 580.4,228.8 580.6,230.0 580.8,226.3 581.0,227.9 581.2,230.5 581.4,232.0 581.6,231.3 581.8,227.6 582.0,230.8 582.2,233.9 582.4,233.4 582.6,232.0 582.8,230.2 583.0,233.9 583.2,231.1 583.4,229.8 583.6,230.8 583.8,236.3 584.0,233.4 584.2,235.8 584.4,231.9 584.6,235.4 584.8,231.8 585.0,233.0 585.2,239.4 585.4,235.4 585.6,232.4 585.8,233.5 586.0,234.6 586.2,236.8 586.4,232.8 586.6,229.9 586.8,233.5 587.0,234.3 587.2,234.7 587.4,237.7 587.6,235.4 587.8,236.6 588.0,232.2 588.2,237.0 588.4,240.0 588.6,237.0 588.8,235.8 589.0,235.7 589.2,239.7 589.4,233.3 589.6,235.4 589.8,236.9 590.0,237.7 590.2,234.9 590.4,236.9 590.6,235.6 590.8,236.7 591.0,236.2 591.2,233.9 591.4,236.8 591.6,239.1 591.8,234.8 592.0,236.7 592.2,239.0 592.4,235.0 592.6,238.2 592.8,235.4 593.0,240.8 593.2,243.8 593.4,243.3 593.6,238.1 593.8,240.5 594.0,239.2 594.2,239.3 594.4,243.0 594.6,236.3 594.8,242.1 595.0,239.6 595.2,243.3 595.4,240.5 595.6,238.6 595.8,241.0 596.0,242.3 596.2,240.7 596.4,242.0 596.6,239.7 596.8,235.9 597.0,243.3 597.2,243.0 597.4,241.8 597.6,241.7 597.8,244.1 598.0,240.6 598.2,240.1 598.4,241.4 598.6,244.8 598.8,238.7 599.0,245.0 599.2,240.6 599.4,239.6 599.6,245.3 599.8,242.0 600.0,239.2 600.2,241.4 600.4,244.5 600.6,245.2 600.8,241.3 601.0,243.3 601.2,244.0 601.4,240.7 601.6,243.1 601.8,242.2 602.0,240.9 602.2,241.0 602.4,242.3 602.6,242.2 602.8,240.8 603.0,241.1 603.2,244.7 603.4,242.6 603.6,244.1 603.8,244.9 604.0,243.4 604.2,247.4 604.4,239.9 604.6,243.8 604.8,241.0 605.0,246.2 605.2,245.8 605.4,237.0 605.6,239.3 605.8,243.2 606.0,243.4 606.2,243.2 606.4,241.3 606.6,242.5 606.8,242.9 607.0,241.1 607.2,243.7 607.4,235.8 607.6,242.7 607.8,238.6 608.0,243.3 608.2,240.5 608.4,238.8 608.6,241.8 608.8,238.6 609.0,238.6 609.2,236.9 609.4,240.5 609.6,241.7 609.8,242.9 610.0,240.0 610.2,242.8 610.4,240.2 610.6,239.9 610.8,241.4 611.0,242.4 611.2,239.0 611.4,239.1 611.6,239.2 611.8,239.7 612.0,237.3 612.2,241.8 612.4,238.3 612.6,240.3 612.8,237.2 613.0,240.0 613.2,240.0 613.4,238.0 613.6,243.8 613.8,239.7 614.0,243.1 614.2,241.0 614.4,237.1 614.6,237.7 614.8,239.6 615.0,238.7 615.2,238.6 615.4,237.7 615.6,234.0 615.8,237.8 616.0,232.9 616.2,239.1 616.4,236.4 616.6,236.4 616.8,237.5 617.0,238.7 617.2,234.5 617.4,233.7 617.6,235.3 617.8,232.9 618.0,235.4 618.2,241.5 618.4,235.1 618.6,239.1 618.8,234.2 619.0,238.1 619.2,236.5 619.4,237.1 619.6,238.5 619.8,241.3 620.0,237.5 620.2,237.2 620.4,234.5 620.6,238.1 620.8,236.0 621.0,238.5 621.2,236.3 621.4,240.4 621.6,231.3 621.8,235.2 622.0,237.9 622.2,234.7 622.4,233.5 622.6,234.5 622.8,231.7 623.0,235.0 623.2,240.4 623.4,237.0 623.6,231.4 623.8,231.7 624.0,232.6 624.2,235.7 624.4,231.0 624.6,231.0 624.8,234.5 625.0,234.2 625.2,230.9 625.4,228.8 625.6,227.5 625.8,229.2 626.0,225.2 626.2,232.1 626.4,228.4 626.6,230.8 626.8,233.8 627.0,231.8 627.2,225.9 627.4,230.4 627.6,230.7 627.8,225.8 628.0,225.0 628.2,226.7 628.4,222.8 628.6,229.8 628.8,220.2 629.0,222.9 629.2,224.6 629.4,224.3 629.6,224.8 629.8,224.7 630.0,223.1 630.2,225.9 630.4,217.6 630.6,222.3 630.8,220.1 631.0,221.7 631.2,221.4 631.4,218.2 631.6,218.4 631.8,221.3 632.0,219.8 632.2,216.8 632.4,222.8 632.6,223.0 632.8,213.5 633.0,217.2 633.2,222.0 633.4,217.4 633.6,215.6 633.8,214.1 634.0,212.9 634.2,213.3 634.4,212.0 634.6,214.7 634.8,211.6 635.0,211.1 635.2,208.9 635.4,211.3 635.6,208.9 635.8,210.2 636.0,212.8 636.2,210.7 636.4,210.7 636.6,209.9 636.8,208.8 637.0,208.0 637.2,207.2 637.4,209.4 637.6,204.7 637.8,210.2 638.0,206.8 638.2,204.8 638.4,205.2 638.6,204.7 638.8,206.7 639.0,204.7 639.2,209.5 639.4,205.4 639.6,202.6 639.8,207.2 640.0,205.1 640.2,210.9 640.4,214.7 640.6,214.9 640.8,211.4 641.0,214.1 641.2,221.4 641.4,219.0 641.6,219.4 641.8,222.9 642.0,227.1 642.2,225.2 642.4,223.3 642.6,224.7 642.8,226.2 643.0,224.1 643.2,223.9 643.4,227.5 643.6,225.9 643.8,228.9 644.0,230.1 644.2,236.4 644.4,229.5 644.6,232.1 644.8,232.8 645.0,235.1 645.2,237.4 645.4,234.4 645.6,234.4 645.8,233.2 646.0,235.7 646.2,239.9 646.4,239.4 646.6,237.5 646.8,239.7 647.0,241.4 647.2,243.1 647.4,241.1 647.6,242.5 647.8,239.3 648.0,241.6 648.2,248.8 648.4,240.3 648.6,245.3 648.8,247.2 649.0,246.4 649.2,245.9 649.4,248.3 649.6,249.0 649.8,249.3 650.0,245.5 650.2,250.2 650.4,249.1 650.6,250.3 650.8,252.7 651.0,254.2 651.2,255.2 651.4,252.4 651.6,256.2 651.8,257.2 652.0,257.6 652.2,258.6 652.4,255.3 652.6,255.6 652.8,258.3 653.0,253.4 653.2,257.5 653.4,256.0 653.6,256.7 653.8,253.6 654.0,255.9 654.2,258.2 654.4,260.6 654.6,261.1 654.8,258.7 655.0,258.7 655.2,257.3 655.4,260.5 655.6,259.1 655.8,261.3 656.0,264.3 656.2,260.1 656.4,256.8 656.6,258.5 656.8,257.2 657.0,258.0 657.2,264.2 657.4,261.7 657.6,257.7 657.8,263.0 658.0,264.6 658.2,260.9 658.4,260.2 658.6,261.2 658.8,262.8 659.0,263.8 659.2,265.2 659.4,265.4 659.6,265.4 659.8,265.9 660.0,264.4 660.2,259.2 660.4,262.7 660.6,263.9 660.8,262.3 661.0,265.5 661.2,262.6 661.4,261.3 661.6,267.1 661.8,265.3 662.0,264.4 662.2,266.2 662.4,266.6 662.6,265.0 662.8,258.4 663.0,262.8 663.2,263.4 663.4,262.2 663.6,265.2 663.8,267.7 664.0,263.7 664.2,262.3 664.4,270.0 664.6,264.1 664.8,262.3 665.0,265.9 665.2,266.5 665.4,263.9 665.6,267.5 665.8,264.6 666.0,263.6 666.2,266.3 666.4,267.8 666.6,264.5 666.8,266.9 667.0,266.0 667.2,273.1 667.4,264.7 667.6,269.7 667.8,266.4 668.0,266.2 668.2,268.3 668.4,268.8 668.6,269.7 668.8,267.5 669.0,265.3 669.2,265.5 669.4,268.1 669.6,268.3 669.8,270.3 670.0,267.9 670.2,269.5 670.4,270.6 670.6,267.4 670.8,263.4 671.0,264.2 671.2,263.5 671.4,270.8 671.6,265.0 671.8,269.9 672.0,268.4 672.2,271.1 672.4,269.4 672.6,266.7 672.8,266.5 673.0,267.1 673.2,267.3 673.4,265.6 673.6,266.8 673.8,270.7 674.0,262.8 674.2,267.5 674.4,264.6 674.6,267.2 674.8,268.8 675.0,266.6 675.2,268.6 675.4,262.9 675.6,269.3 675.8,265.2 676.0,268.1 676.2,267.0 676.4,260.4 676.6,264.7 676.8,267.0 677.0,270.2 677.2,267.1 677.4,267.0 677.6,263.0 677.8,269.8 678.0,270.7 678.2,266.4 678.4,265.7 678.6,262.3 678.8,268.3 679.0,272.6 679.2,267.8 679.4,269.1 679.6,267.4 679.8,263.6 680.0,269.2 680.2,263.0 680.4,265.4 680.6,266.5 680.8,267.9 681.0,266.8 681.2,266.7 681.4,263.9 681.6,262.6 681.8,265.8 682.0,263.9 682.2,262.4 682.4,262.4 682.6,264.2 682.8,260.9 683.0,262.0 683.2,261.3 683.4,265.6 683.6,266.0 683.8,269.8 684.0,261.3 684.2,263.1 684.4,266.9 684.6,264.1 684.8,263.7 685.0,268.5 685.2,263.5 685.4,261.4 685.6,260.9 685.8,264.8 686.0,264.6 686.2,260.5 686.4,261.3 686.6,264.8 686.8,264.8 687.0,261.8 687.2,264.7 687.4,264.5 687.6,258.8 687.8,262.2 688.0,263.8 688.2,261.4 688.4,257.5 688.6,261.9 688.8,264.3 689.0,266.2 689.2,257.1 689.4,268.5 689.6,259.5 689.8,264.4 690.0,265.0 690.2,264.3 690.4,262.3 690.6,259.1 690.8,263.3 691.0,260.1 691.2,255.7 691.4,268.5 691.6,263.4 691.8,266.1 692.0,259.5 692.2,265.2 692.4,265.5 692.6,265.4 692.8,261.6 693.0,258.8 693.2,261.3 693.4,256.4 693.6,257.6 693.8,261.9 694.0,259.3 694.2,261.3 694.4,261.4 694.6,266.3 694.8,264.8 695.0,261.6 695.2,264.6 695.4,259.8 695.6,260.9 695.8,263.9 696.0,258.7 696.2,261.1 696.4,258.6 696.6,262.2 696.8,266.1 697.0,260.6 697.2,263.2 697.4,260.8 697.6,260.5 697.8,260.7 698.0,267.5 698.2,270.1 698.4,266.0 698.6,263.6 698.8,267.4 699.0,265.4 699.2,268.6 699.4,267.8 699.6,268.2 699.8,269.4 700.0,266.9 700.2,267.7 700.4,265.0 700.6,268.4 700.8,266.5 701.0,270.0 701.2,268.5 701.4,271.4 701.6,272.7 701.8,268.7 702.0,270.6 702.2,270.7 702.4,275.3 702.6,278.0 702.8,276.5 703.0,274.1 703.2,278.9 703.4,272.2 703.6,280.0 703.8,275.3 704.0,270.7 704.2,284.2 704.4,282.2 704.6,276.4 704.8,279.8 705.0,279.4 705.2,280.7 705.4,277.4 705.6,279.8 705.8,283.1 706.0,283.1 706.2,285.9 706.4,283.8 706.6,289.7 706.8,282.9 707.0,285.8 707.2,281.1 707.4,283.3 707.6,290.0 707.8,285.2 708.0,289.3" fill="none" stroke="#ff1414" stroke-width="1.35" stroke-linejoin="round" clip-path="url(#cb)"/>
<line x1="682" y1="266" x2="682" y2="284.9" stroke="#ff1414" stroke-width="1.4"/>
<line x1="423.1" y1="30.3" x2="423.1" y2="285.05" stroke="#111" stroke-width="1.5"/>
<line x1="447.25" y1="27.3" x2="447.25" y2="285.05" stroke="#111" stroke-width="1.5"/>
<line x1="500.9" y1="145" x2="500.9" y2="285.05" stroke="#111" stroke-width="1.5"/>
<line x1="552.75" y1="92.7" x2="552.75" y2="285.05" stroke="#111" stroke-width="1.5"/>
<line x1="612.4" y1="182.5" x2="612.4" y2="285.05" stroke="#111" stroke-width="1.5"/>
<line x1="639.3" y1="146.4" x2="639.3" y2="285.05" stroke="#111" stroke-width="1.5"/>
<line x1="692.9" y1="171.3" x2="692.9" y2="285.05" stroke="#111" stroke-width="1.5"/>
<rect x="413.0" y="3.0" width="310.6" height="282.05" fill="none" stroke="#222" stroke-width="1.2"/>
<path d="M424.00 285.05L424.00 280.35 M424.00 3.00L424.00 7.70 M478.50 285.05L478.50 280.35 M478.50 3.00L478.50 7.70 M533.00 285.05L533.00 280.35 M533.00 3.00L533.00 7.70 M587.50 285.05L587.50 280.35 M587.50 3.00L587.50 7.70 M642.00 285.05L642.00 280.35 M642.00 3.00L642.00 7.70 M696.50 285.05L696.50 280.35 M696.50 3.00L696.50 7.70 M451.25 285.05L451.25 282.05 M451.25 3.00L451.25 6.00 M505.75 285.05L505.75 282.05 M505.75 3.00L505.75 6.00 M560.25 285.05L560.25 282.05 M560.25 3.00L560.25 6.00 M614.75 285.05L614.75 282.05 M614.75 3.00L614.75 6.00 M669.25 285.05L669.25 282.05 M669.25 3.00L669.25 6.00 M723.75 285.05L723.75 282.05 M723.75 3.00L723.75 6.00 M413.00 249.88L417.70 249.88 M723.60 249.88L718.90 249.88 M413.00 179.42L417.70 179.42 M723.60 179.42L718.90 179.42 M413.00 108.96L417.70 108.96 M723.60 108.96L718.90 108.96 M413.00 38.50L417.70 38.50 M723.60 38.50L718.90 38.50 M413.00 214.65L416.00 214.65 M723.60 214.65L720.60 214.65 M413.00 144.19L416.00 144.19 M723.60 144.19L720.60 144.19 M413.00 73.73L416.00 73.73 M723.60 73.73L720.60 73.73" stroke="#222" stroke-width="1.1" fill="none"/>
<text transform="translate(424.4 303.8) scale(1 1.11)" font-size="16.5" text-anchor="middle">100</text>
<text transform="translate(478.9 303.8) scale(1 1.11)" font-size="16.5" text-anchor="middle">200</text>
<text transform="translate(533.4 303.8) scale(1 1.11)" font-size="16.5" text-anchor="middle">300</text>
<text transform="translate(587.9 303.8) scale(1 1.11)" font-size="16.5" text-anchor="middle">400</text>
<text transform="translate(642.4 303.8) scale(1 1.11)" font-size="16.5" text-anchor="middle">500</text>
<text transform="translate(696.9 303.8) scale(1 1.11)" font-size="16.5" text-anchor="middle">600</text>
<text transform="translate(410.4 44.6) scale(1 1.11)" font-size="16.5" text-anchor="end">1</text>
<text transform="translate(410.4 115.1) scale(1 1.11)" font-size="16.5" text-anchor="end">0.8</text>
<text transform="translate(410.4 185.5) scale(1 1.11)" font-size="16.5" text-anchor="end">0.6</text>
<text transform="translate(410.4 256.0) scale(1 1.11)" font-size="16.5" text-anchor="end">0.4</text>
<text transform="translate(574.3 326.6) scale(1 1.04)" font-size="18.0" text-anchor="middle">Raman shift (cm<tspan font-size="12" dy="-6.3">-1</tspan><tspan dy="6.3">)</tspan></text>
<text transform="translate(383.5 144.2) rotate(-90) scale(1 1.0)" font-size="18.2" text-anchor="middle">Intensity (a.u)</text>
<text transform="translate(379.0 16.5) scale(1 1.14)" font-size="17.8" text-anchor="start">(b)</text>
<text transform="translate(427.2 26.3) rotate(-90) scale(1 1.0)" font-size="15.2" text-anchor="start">Ba</text>
<text transform="translate(459.8 34.6) rotate(-90) scale(1 1.0)" font-size="15.2" text-anchor="start">Cu2</text>
<text transform="translate(498.6 161.0) rotate(-90) scale(1 1.0)" font-size="15.2" text-anchor="start">Streching vibration of Cu</text>
<text transform="translate(558.4 85) rotate(-90) scale(1 1.0)" font-size="15.2" text-anchor="start">O2+/O3-</text>
<text transform="translate(616.5 176) rotate(-90) scale(1 1.0)" font-size="15.2" text-anchor="start">O2+/O3+</text>
<text transform="translate(646.0 141.5) rotate(-90) scale(1 1.0)" font-size="15.2" text-anchor="start">O4</text>
<text transform="translate(698.6 167.5) rotate(-90) scale(1 1.0)" font-size="15.2" text-anchor="start">Streching vibration of O</text>
<rect x="587.4" y="16.8" width="92.2" height="57.3" fill="#fff" stroke="#222" stroke-width="1"/>
<line x1="592.5" y1="27.8" x2="608.9" y2="27.8" stroke="#8a22ff" stroke-width="1.3"/>
<text transform="translate(613.8 33.8) scale(1 1.05)" font-size="15.2" text-anchor="start">Y70Gd30</text>
<line x1="592.5" y1="45.3" x2="608.9" y2="45.3" stroke="#12f212" stroke-width="1.3"/>
<text transform="translate(613.8 51.0) scale(1 1.05)" font-size="15.2" text-anchor="start">Y75Gd25</text>
<line x1="592.5" y1="62.0" x2="608.9" y2="62.0" stroke="#ff1414" stroke-width="1.3"/>
<text transform="translate(613.8 68.2) scale(1 1.05)" font-size="15.2" text-anchor="start">Y80Gd20</text>
<clipPath id="cc"><rect x="225.25" y="362.3" width="300.75" height="275.49999999999994"/></clipPath>
<polyline points="224.7,565.1 225.1,565.8 225.5,566.1 225.9,567.1 226.3,566.2 226.7,567.7 227.1,567.5 227.5,568.7 227.9,568.9 228.3,569.3 228.7,569.0 229.1,568.6 229.5,569.2 229.9,569.6 230.3,568.3 230.7,568.9 231.1,568.2 231.5,568.8 231.9,567.0 232.3,566.7 232.7,566.2 233.1,564.8 233.5,561.9 233.9,559.9 234.3,554.4 234.7,546.8 235.1,531.1 235.5,511.7 235.9,486.3 236.3,463.0 236.7,454.9 237.1,468.5 237.5,489.9 237.9,505.2 238.3,518.4 238.7,531.9 239.1,538.7 239.5,537.0 239.9,532.2 240.3,527.3 240.7,521.8 241.1,507.3 241.5,492.8 241.9,487.0 242.3,493.1 242.7,504.3 243.1,516.6 243.5,526.1 243.9,534.5 244.3,543.9 244.7,550.6 245.1,556.8 245.5,561.0 245.9,565.4 246.3,571.0 246.7,572.7 247.1,575.3 247.5,578.5 247.9,579.4 248.3,580.5 248.7,582.0 249.1,582.4 249.5,583.9 249.9,582.9 250.3,583.9 250.7,582.2 251.1,581.7 251.5,581.0 251.9,580.7 252.3,578.7 252.7,577.0 253.1,572.7 253.5,569.6 253.9,566.3 254.3,558.1 254.7,549.7 255.1,541.4 255.5,533.0 255.9,523.9 256.3,517.5 256.7,522.4 257.1,530.0 257.5,539.7 257.9,547.3 258.3,557.9 258.7,565.1 259.1,570.1 259.5,573.0 259.9,576.8 260.3,578.9 260.7,581.2 261.1,582.2 261.5,584.3 261.9,585.9 262.3,586.0 262.7,587.8 263.1,589.0 263.5,589.2 263.9,589.6 264.3,590.2 264.7,591.6 265.1,590.6 265.5,591.6 265.9,591.8 266.3,592.4 266.7,592.5 267.1,592.1 267.5,594.2 267.9,593.3 268.3,592.5 268.7,592.9 269.1,593.6 269.5,594.1 269.9,593.0 270.3,594.3 270.7,593.2 271.1,593.6 271.5,594.7 271.9,595.3 272.3,594.3 272.7,594.2 273.1,595.2 273.5,593.9 273.9,594.7 274.3,594.7 274.7,595.2 275.1,594.7 275.5,594.4 275.9,594.8 276.3,593.6 276.7,594.6 277.1,593.4 277.5,593.0 277.9,593.1 278.3,592.9 278.7,592.3 279.1,590.7 279.5,590.6 279.9,590.7 280.3,590.7 280.7,590.9 281.1,592.5 281.5,592.1 281.9,590.2 282.3,590.1 282.7,589.8 283.1,587.9 283.5,587.3 283.9,585.4 284.3,585.2 284.7,583.5 285.1,581.8 285.5,580.9 285.9,578.3 286.3,576.8 286.7,576.5 287.1,573.0 287.5,573.5 287.9,572.4 288.3,574.1 288.7,576.4 289.1,576.6 289.5,577.5 289.9,581.4 290.3,581.9 290.7,584.2 291.1,586.2 291.5,586.3 291.9,588.7 292.3,589.8 292.7,590.0 293.1,590.1 293.5,589.9 293.9,590.4 294.3,587.6 294.7,588.9 295.1,588.5 295.5,586.5 295.9,587.2 296.3,586.0 296.7,584.9 297.1,583.5 297.5,582.3 297.9,580.7 298.3,578.4 298.7,577.2 299.1,575.4 299.5,574.4 299.9,573.8 300.3,575.5 300.7,576.9 301.1,578.4 301.5,579.7 301.9,580.4 302.3,580.3 302.7,581.3 303.1,582.4 303.5,583.8 303.9,584.2 304.3,585.4 304.7,586.4 305.1,585.7 305.5,587.0 305.9,586.6 306.3,586.5 306.7,586.9 307.1,587.9 307.5,587.2 307.9,589.0 308.3,589.9 308.7,588.5 309.1,589.3 309.5,590.7 309.9,590.2 310.3,590.3 310.7,590.3 311.1,591.2 311.5,590.9 311.9,590.2 312.3,589.4 312.7,589.3 313.1,591.2 313.5,590.5 313.9,591.4 314.3,590.6 314.7,589.2 315.1,589.9 315.5,590.1 315.9,588.6 316.3,588.5 316.7,589.5 317.1,587.1 317.5,587.1 317.9,588.0 318.3,587.0 318.7,585.7 319.1,585.0 319.5,585.7 319.9,585.6 320.3,584.9 320.7,584.2 321.1,584.5 321.5,583.3 321.9,582.2 322.3,583.6 322.7,581.4 323.1,582.0 323.5,582.0 323.9,582.9 324.3,581.6 324.7,581.9 325.1,581.0 325.5,582.3 325.9,582.3 326.3,582.5 326.7,581.4 327.1,581.7 327.5,580.6 327.9,580.3 328.3,579.9 328.7,580.0 329.1,578.3 329.5,577.9 329.9,576.5 330.3,575.8 330.7,574.7 331.1,574.0 331.5,573.4 331.9,571.1 332.3,570.9 332.7,568.7 333.1,568.2 333.5,566.2 333.9,564.7 334.3,562.9 334.7,562.1 335.1,560.1 335.5,559.3 335.9,557.5 336.3,556.6 336.7,557.1 337.1,555.0 337.5,556.5 337.9,558.4 338.3,560.7 338.7,559.6 339.1,560.7 339.5,561.3 339.9,560.3 340.3,559.7 340.7,558.9 341.1,555.0 341.5,551.9 341.9,549.5 342.3,544.2 342.7,539.9 343.1,533.2 343.5,525.1 343.9,518.5 344.3,508.4 344.7,496.8 345.1,486.0 345.5,472.5 345.9,461.6 346.3,449.4 346.7,437.8 347.1,426.9 347.5,422.3 347.9,419.1 348.3,418.5 348.7,422.2 349.1,426.1 349.5,432.3 349.9,441.4 350.3,450.5 350.7,460.3 351.1,468.3 351.5,476.0 351.9,483.0 352.3,490.1 352.7,496.7 353.1,500.6 353.5,506.5 353.9,507.2 354.3,510.7 354.7,511.6 355.1,513.7 355.5,514.2 355.9,515.1 356.3,516.4 356.7,515.8 357.1,515.4 357.5,516.2 357.9,515.4 358.3,515.6 358.7,516.3 359.1,515.7 359.5,515.7 359.9,515.7 360.3,516.2 360.7,516.4 361.1,518.3 361.5,520.1 361.9,523.4 362.3,526.6 362.7,529.5 363.1,531.7 363.5,536.1 363.9,539.0 364.3,541.1 364.7,544.5 365.1,547.6 365.5,549.7 365.9,551.4 366.3,553.5 366.7,554.7 367.1,556.2 367.5,556.1 367.9,556.7 368.3,558.9 368.7,557.1 369.1,558.5 369.5,558.4 369.9,558.1 370.3,556.7 370.7,556.5 371.1,554.7 371.5,552.8 371.9,550.6 372.3,549.4 372.7,547.0 373.1,544.2 373.5,542.5 373.9,539.8 374.3,537.0 374.7,533.5 375.1,530.0 375.5,527.1 375.9,522.9 376.3,519.6 376.7,514.1 377.1,508.5 377.5,504.8 377.9,500.8 378.3,494.5 378.7,488.9 379.1,483.0 379.5,478.7 379.9,471.5 380.3,465.4 380.7,459.8 381.1,452.8 381.5,447.5 381.9,440.7 382.3,435.0 382.7,429.2 383.1,423.4 383.5,416.8 383.9,412.3 384.3,406.3 384.7,400.4 385.1,396.9 385.5,392.3 385.9,389.2 386.3,384.8 386.7,383.9 387.1,382.1 387.5,381.4 387.9,382.7 388.3,383.8 388.7,387.9 389.1,389.9 389.5,393.4 389.9,396.4 390.3,402.2 390.7,410.1 391.1,415.3 391.5,421.5 391.9,426.9 392.3,433.5 392.7,440.6 393.1,446.5 393.5,454.4 393.9,459.5 394.3,466.9 394.7,473.3 395.1,480.5 395.5,487.8 395.9,492.9 396.3,500.2 396.7,506.0 397.1,512.0 397.5,516.9 397.9,521.9 398.3,527.6 398.7,533.0 399.1,537.3 399.5,541.1 399.9,545.0 400.3,547.1 400.7,550.7 401.1,553.7 401.5,556.1 401.9,558.4 402.3,561.0 402.7,563.2 403.1,565.8 403.5,565.5 403.9,566.7 404.3,569.1 404.7,569.8 405.1,570.1 405.5,572.4 405.9,572.0 406.3,572.3 406.7,572.1 407.1,571.8 407.5,572.0 407.9,571.0 408.3,572.5 408.7,570.6 409.1,569.6 409.5,568.3 409.9,567.5 410.3,566.3 410.7,564.3 411.1,562.2 411.5,562.0 411.9,560.4 412.3,561.7 412.7,560.7 413.1,560.2 413.5,560.2 413.9,560.1 414.3,561.1 414.7,562.7 415.1,562.9 415.5,563.8 415.9,563.8 416.3,564.1 416.7,564.3 417.1,564.9 417.5,564.3 417.9,564.9 418.3,564.0 418.7,564.1 419.1,563.7 419.5,564.4 419.9,563.3 420.3,563.8 420.7,562.0 421.1,562.4 421.5,560.8 421.9,561.4 422.3,559.4 422.7,559.1 423.1,557.4 423.5,556.2 423.9,555.7 424.3,553.4 424.7,552.3 425.1,552.5 425.5,549.6 425.9,548.9 426.3,546.3 426.7,544.1 427.1,543.2 427.5,542.3 427.9,540.2 428.3,538.2 428.7,537.1 429.1,534.2 429.5,533.3 429.9,531.4 430.3,529.2 430.7,529.3 431.1,528.5 431.5,526.9 431.9,526.4 432.3,525.5 432.7,524.5 433.1,525.2 433.5,523.9 433.9,524.8 434.3,524.6 434.7,525.1 435.1,527.1 435.5,528.1 435.9,530.3 436.3,530.5 436.7,532.3 437.1,534.3 437.5,536.4 437.9,539.7 438.3,542.3 438.7,544.2 439.1,545.4 439.5,548.3 439.9,550.1 440.3,551.8 440.7,553.2 441.1,556.6 441.5,558.7 441.9,559.9 442.3,561.7 442.7,564.1 443.1,565.6 443.5,565.9 443.9,565.3 444.3,568.7 444.7,569.5 445.1,570.9 445.5,571.2 445.9,571.8 446.3,573.6 446.7,573.8 447.1,574.6 447.5,575.5 447.9,575.9 448.3,575.5 448.7,577.2 449.1,577.1 449.5,577.6 449.9,578.4 450.3,577.6 450.7,578.5 451.1,577.7 451.5,578.6 451.9,579.2 452.3,579.1 452.7,579.1 453.1,579.7 453.5,579.2 453.9,578.5 454.3,580.1 454.7,579.6 455.1,580.0 455.5,579.3 455.9,579.2 456.3,578.9 456.7,578.1 457.1,578.8 457.5,578.5 457.9,579.6 458.3,577.3 458.7,578.2 459.1,577.9 459.5,577.7 459.9,577.4 460.3,577.4 460.7,577.5 461.1,575.6 461.5,576.8 461.9,575.7 462.3,574.9 462.7,574.0 463.1,573.5 463.5,574.1 463.9,573.1 464.3,572.6 464.7,572.6 465.1,572.4 465.5,571.7 465.9,570.9 466.3,570.7 466.7,570.5 467.1,569.6 467.5,570.2 467.9,570.0 468.3,569.5 468.7,568.1 469.1,567.6 469.5,566.7 469.9,567.6 470.3,566.0 470.7,567.1 471.1,564.1 471.5,565.0 471.9,564.6 472.3,563.9 472.7,563.7 473.1,564.0 473.5,562.3 473.9,562.3 474.3,561.1 474.7,560.1 475.1,559.7 475.5,560.4 475.9,559.6 476.3,558.1 476.7,558.7 477.1,558.4 477.5,557.8 477.9,557.8 478.3,555.8 478.7,555.6 479.1,555.1 479.5,555.4 479.9,555.6 480.3,554.2 480.7,554.3 481.1,554.3 481.5,553.1 481.9,553.6 482.3,552.6 482.7,553.4 483.1,552.7 483.5,551.1 483.9,550.4 484.3,551.1 484.7,548.6 485.1,548.8 485.5,546.7 485.9,545.0 486.3,545.5 486.7,543.3 487.1,541.0 487.5,539.8 487.9,537.7 488.3,535.6 488.7,534.0 489.1,532.6 489.5,528.9 489.9,527.8 490.3,524.5 490.7,523.1 491.1,519.9 491.5,517.6 491.9,515.6 492.3,514.2 492.7,511.7 493.1,508.8 493.5,506.5 493.9,504.4 494.3,503.6 494.7,499.7 495.1,497.2 495.5,494.9 495.9,493.1 496.3,492.0 496.7,490.5 497.1,487.3 497.5,488.5 497.9,486.3 498.3,485.0 498.7,486.1 499.1,483.4 499.5,483.8 499.9,485.7 500.3,485.6 500.7,486.9 501.1,488.0 501.5,489.4 501.9,489.8 502.3,490.9 502.7,492.7 503.1,496.5 503.5,498.5 503.9,502.8 504.3,505.5 504.7,509.4 505.1,512.6 505.5,515.3 505.9,517.8 506.3,522.1 506.7,525.0 507.1,528.9 507.5,531.7 507.9,536.3 508.3,537.4 508.7,539.4 509.1,542.7 509.5,546.0 509.9,550.2 510.3,551.7 510.7,552.8 511.1,555.1 511.5,556.3 511.9,557.9 512.3,561.0 512.7,562.3 513.1,563.2 513.5,564.6 513.9,566.7 514.3,568.2 514.7,568.6 515.1,569.2 515.5,571.9 515.9,571.9 516.3,572.3 516.7,574.3 517.1,575.5 517.5,576.8 517.9,576.8 518.3,578.1 518.7,578.0 519.1,579.8 519.5,579.3 519.9,581.4 520.3,581.8 520.7,581.5 521.1,582.7 521.5,584.8 521.9,583.8 522.3,584.1 522.7,585.5 523.1,586.4 523.5,587.4 523.9,587.4 524.3,587.7 524.7,588.4 525.1,589.5 525.5,589.4 525.9,590.3" fill="none" stroke="#ff1493" stroke-width="1.9" stroke-linejoin="round" clip-path="url(#cc)"/>
<polyline points="224.7,611.1 225.1,612.2 225.5,611.4 225.9,613.2 226.3,613.9 226.7,613.3 227.1,614.1 227.5,614.3 227.9,614.2 228.3,614.3 228.7,613.9 229.1,616.3 229.5,615.8 229.9,617.6 230.3,616.8 230.7,616.6 231.1,616.1 231.5,617.3 231.9,616.1 232.3,617.2 232.7,615.9 233.1,616.2 233.5,615.0 233.9,617.1 234.3,615.5 234.7,615.0 235.1,615.3 235.5,613.7 235.9,614.1 236.3,612.2 236.7,612.5 237.1,610.7 237.5,609.4 237.9,609.4 238.3,608.0 238.7,608.2 239.1,606.7 239.5,605.4 239.9,602.8 240.3,598.9 240.7,594.1 241.1,584.3 241.5,565.0 241.9,555.5 242.3,562.2 242.7,574.9 243.1,583.9 243.5,593.8 243.9,599.0 244.3,603.3 244.7,606.3 245.1,608.9 245.5,609.9 245.9,610.7 246.3,611.6 246.7,612.4 247.1,613.8 247.5,613.0 247.9,613.9 248.3,613.9 248.7,614.6 249.1,614.7 249.5,613.3 249.9,614.9 250.3,612.5 250.7,610.7 251.1,608.9 251.5,606.8 251.9,602.6 252.3,597.1 252.7,589.7 253.1,579.7 253.5,563.5 253.9,544.9 254.3,517.8 254.7,479.7 255.1,448.3 255.5,424.5 255.9,416.7 256.3,427.3 256.7,451.1 257.1,482.8 257.5,522.6 257.9,546.7 258.3,562.8 258.7,576.9 259.1,584.0 259.5,591.1 259.9,596.8 260.3,600.9 260.7,604.0 261.1,607.8 261.5,610.4 261.9,612.3 262.3,614.1 262.7,614.9 263.1,615.3 263.5,618.2 263.9,617.2 264.3,619.9 264.7,619.1 265.1,619.9 265.5,620.2 265.9,621.3 266.3,620.8 266.7,622.5 267.1,622.1 267.5,622.2 267.9,622.0 268.3,622.8 268.7,622.9 269.1,624.2 269.5,623.9 269.9,622.5 270.3,624.5 270.7,622.3 271.1,624.8 271.5,622.9 271.9,624.2 272.3,624.8 272.7,624.4 273.1,623.8 273.5,625.3 273.9,623.6 274.3,623.8 274.7,625.5 275.1,624.2 275.5,624.8 275.9,625.1 276.3,624.5 276.7,624.6 277.1,624.4 277.5,624.3 277.9,624.8 278.3,624.4 278.7,623.9 279.1,624.1 279.5,623.0 279.9,622.7 280.3,622.3 280.7,623.2 281.1,623.4 281.5,622.2 281.9,620.6 282.3,621.0 282.7,621.2 283.1,620.6 283.5,619.9 283.9,619.9 284.3,619.2 284.7,617.0 285.1,617.2 285.5,615.4 285.9,614.7 286.3,613.9 286.7,612.5 287.1,609.3 287.5,605.3 287.9,601.7 288.3,598.5 288.7,594.1 289.1,590.6 289.5,586.6 289.9,583.4 290.3,581.6 290.7,583.0 291.1,585.5 291.5,587.5 291.9,589.0 292.3,594.3 292.7,599.3 293.1,603.7 293.5,607.1 293.9,608.6 294.3,612.3 294.7,613.6 295.1,614.4 295.5,615.7 295.9,616.2 296.3,616.0 296.7,615.3 297.1,615.5 297.5,618.5 297.9,616.5 298.3,616.5 298.7,616.3 299.1,615.0 299.5,615.3 299.9,613.2 300.3,613.5 300.7,611.5 301.1,613.3 301.5,613.6 301.9,613.9 302.3,614.5 302.7,615.0 303.1,615.7 303.5,616.1 303.9,615.4 304.3,616.9 304.7,616.1 305.1,617.0 305.5,617.1 305.9,617.8 306.3,617.5 306.7,618.1 307.1,617.8 307.5,617.7 307.9,619.0 308.3,618.9 308.7,619.0 309.1,619.4 309.5,618.3 309.9,619.6 310.3,618.5 310.7,619.4 311.1,619.1 311.5,619.4 311.9,619.7 312.3,619.3 312.7,618.7 313.1,619.7 313.5,619.7 313.9,619.3 314.3,619.3 314.7,617.5 315.1,618.3 315.5,618.0 315.9,616.6 316.3,617.6 316.7,617.3 317.1,616.0 317.5,615.9 317.9,615.8 318.3,615.3 318.7,614.6 319.1,612.6 319.5,611.7 319.9,611.2 320.3,610.2 320.7,608.4 321.1,607.1 321.5,606.4 321.9,605.5 322.3,604.9 322.7,604.7 323.1,606.2 323.5,608.2 323.9,609.5 324.3,610.5 324.7,610.0 325.1,611.1 325.5,611.3 325.9,610.9 326.3,612.4 326.7,612.3 327.1,614.3 327.5,613.8 327.9,613.2 328.3,613.7 328.7,614.0 329.1,614.9 329.5,614.3 329.9,614.8 330.3,614.2 330.7,614.6 331.1,614.6 331.5,614.0 331.9,613.1 332.3,613.3 332.7,611.8 333.1,612.4 333.5,610.7 333.9,609.7 334.3,609.9 334.7,607.0 335.1,605.8 335.5,603.6 335.9,602.6 336.3,601.6 336.7,600.1 337.1,600.8 337.5,599.8 337.9,600.6 338.3,603.7 338.7,605.0 339.1,604.4 339.5,606.6 339.9,608.7 340.3,608.6 340.7,609.5 341.1,609.8 341.5,608.8 341.9,609.8 342.3,610.9 342.7,611.3 343.1,610.4 343.5,610.2 343.9,610.1 344.3,609.0 344.7,608.2 345.1,606.3 345.5,605.7 345.9,604.9 346.3,603.8 346.7,601.1 347.1,601.1 347.5,599.1 347.9,597.6 348.3,594.9 348.7,594.5 349.1,592.1 349.5,590.2 349.9,590.5 350.3,589.2 350.7,588.0 351.1,586.8 351.5,585.3 351.9,584.5 352.3,582.7 352.7,581.5 353.1,580.0 353.5,576.8 353.9,574.4 354.3,572.5 354.7,568.2 355.1,565.7 355.5,563.2 355.9,559.2 356.3,557.3 356.7,554.0 357.1,548.5 357.5,545.1 357.9,542.6 358.3,539.9 358.7,535.5 359.1,534.1 359.5,531.0 359.9,527.7 360.3,527.0 360.7,526.1 361.1,526.9 361.5,528.3 361.9,530.4 362.3,533.1 362.7,535.8 363.1,539.5 363.5,543.9 363.9,548.6 364.3,552.3 364.7,557.2 365.1,561.7 365.5,566.9 365.9,570.2 366.3,573.3 366.7,576.8 367.1,580.5 367.5,584.5 367.9,586.8 368.3,590.0 368.7,593.0 369.1,594.1 369.5,596.8 369.9,597.2 370.3,599.9 370.7,601.3 371.1,601.6 371.5,603.8 371.9,603.4 372.3,603.4 372.7,603.9 373.1,604.9 373.5,603.7 373.9,604.6 374.3,603.7 374.7,604.0 375.1,602.9 375.5,602.5 375.9,602.1 376.3,600.8 376.7,600.2 377.1,599.4 377.5,598.1 377.9,596.8 378.3,595.3 378.7,594.1 379.1,592.8 379.5,591.4 379.9,589.6 380.3,586.1 380.7,584.9 381.1,582.9 381.5,581.1 381.9,578.5 382.3,574.4 382.7,572.8 383.1,568.9 383.5,566.9 383.9,563.9 384.3,561.2 384.7,559.3 385.1,554.9 385.5,551.9 385.9,549.6 386.3,548.0 386.7,544.7 387.1,545.1 387.5,542.3 387.9,541.0 388.3,541.1 388.7,541.4 389.1,543.4 389.5,543.9 389.9,545.1 390.3,547.6 390.7,549.4 391.1,553.1 391.5,556.5 391.9,559.5 392.3,564.3 392.7,566.4 393.1,570.6 393.5,573.4 393.9,576.7 394.3,579.1 394.7,583.6 395.1,585.2 395.5,588.3 395.9,591.5 396.3,593.9 396.7,595.5 397.1,595.2 397.5,598.0 397.9,599.5 398.3,600.8 398.7,602.1 399.1,603.5 399.5,605.3 399.9,605.6 400.3,606.0 400.7,606.7 401.1,608.5 401.5,608.1 401.9,610.3 402.3,610.2 402.7,610.7 403.1,611.7 403.5,611.7 403.9,612.6 404.3,611.7 404.7,611.6 405.1,614.1 405.5,613.2 405.9,611.7 406.3,614.3 406.7,612.5 407.1,614.4 407.5,613.9 407.9,612.9 408.3,611.8 408.7,610.6 409.1,611.0 409.5,609.4 409.9,609.5 410.3,607.5 410.7,605.2 411.1,604.1 411.5,602.8 411.9,600.8 412.3,599.6 412.7,597.3 413.1,597.0 413.5,594.0 413.9,593.1 414.3,590.9 414.7,592.0 415.1,592.2 415.5,591.4 415.9,590.7 416.3,590.2 416.7,591.0 417.1,591.0 417.5,589.8 417.9,590.6 418.3,590.9 418.7,590.1 419.1,591.0 419.5,590.4 419.9,591.5 420.3,589.8 420.7,590.9 421.1,590.7 421.5,589.5 421.9,590.0 422.3,590.0 422.7,591.0 423.1,590.1 423.5,590.2 423.9,590.1 424.3,591.4 424.7,589.5 425.1,590.6 425.5,588.8 425.9,587.1 426.3,586.4 426.7,584.9 427.1,584.0 427.5,582.0 427.9,580.8 428.3,580.7 428.7,577.6 429.1,575.7 429.5,574.9 429.9,571.6 430.3,571.9 430.7,570.3 431.1,570.0 431.5,569.5 431.9,570.7 432.3,572.5 432.7,573.8 433.1,574.6 433.5,576.6 433.9,577.3 434.3,578.3 434.7,582.8 435.1,585.6 435.5,586.6 435.9,587.8 436.3,590.0 436.7,592.6 437.1,593.0 437.5,595.6 437.9,597.6 438.3,598.3 438.7,601.7 439.1,602.2 439.5,603.9 439.9,603.4 440.3,605.3 440.7,607.1 441.1,607.5 441.5,608.9 441.9,607.9 442.3,609.7 442.7,609.3 443.1,610.8 443.5,611.8 443.9,612.0 444.3,611.8 444.7,613.1 445.1,613.7 445.5,613.6 445.9,614.5 446.3,615.0 446.7,615.3 447.1,614.6 447.5,615.3 447.9,614.7 448.3,615.2 448.7,616.0 449.1,615.4 449.5,615.3 449.9,615.3 450.3,616.0 450.7,616.8 451.1,616.4 451.5,615.7 451.9,616.4 452.3,616.4 452.7,616.7 453.1,615.4 453.5,616.1 453.9,615.4 454.3,615.2 454.7,616.2 455.1,615.6 455.5,615.2 455.9,615.8 456.3,614.9 456.7,614.1 457.1,615.1 457.5,613.8 457.9,613.6 458.3,613.7 458.7,613.6 459.1,613.9 459.5,612.9 459.9,611.7 460.3,612.2 460.7,612.4 461.1,611.8 461.5,611.5 461.9,610.5 462.3,610.7 462.7,611.0 463.1,610.7 463.5,609.6 463.9,609.4 464.3,609.0 464.7,609.8 465.1,608.5 465.5,608.5 465.9,607.9 466.3,607.6 466.7,607.8 467.1,608.1 467.5,607.0 467.9,607.7 468.3,606.7 468.7,606.9 469.1,607.7 469.5,607.3 469.9,605.8 470.3,605.4 470.7,605.0 471.1,605.2 471.5,603.3 471.9,603.7 472.3,603.7 472.7,603.0 473.1,602.5 473.5,603.5 473.9,601.4 474.3,601.6 474.7,601.1 475.1,600.7 475.5,599.8 475.9,600.4 476.3,599.4 476.7,600.0 477.1,597.5 477.5,597.9 477.9,596.5 478.3,596.8 478.7,596.8 479.1,594.8 479.5,595.5 479.9,593.9 480.3,593.0 480.7,593.3 481.1,592.8 481.5,591.8 481.9,591.1 482.3,590.1 482.7,589.0 483.1,587.0 483.5,587.1 483.9,585.8 484.3,585.4 484.7,583.3 485.1,583.7 485.5,581.5 485.9,579.4 486.3,578.5 486.7,576.3 487.1,575.4 487.5,572.5 487.9,571.5 488.3,567.7 488.7,566.1 489.1,563.5 489.5,560.4 489.9,557.9 490.3,555.1 490.7,551.1 491.1,547.9 491.5,544.9 491.9,540.2 492.3,537.3 492.7,532.7 493.1,526.3 493.5,521.3 493.9,515.6 494.3,509.5 494.7,502.1 495.1,495.7 495.5,486.9 495.9,478.4 496.3,470.1 496.7,460.1 497.1,450.5 497.5,442.3 497.9,434.1 498.3,424.5 498.7,415.9 499.1,408.8 499.5,401.7 499.9,397.7 500.3,390.3 500.7,386.3 501.1,381.9 501.5,382.0 501.9,383.8 502.3,386.0 502.7,389.2 503.1,392.0 503.5,396.8 503.9,402.9 504.3,410.1 504.7,420.3 505.1,428.0 505.5,436.5 505.9,445.6 506.3,454.3 506.7,464.5 507.1,471.8 507.5,481.3 507.9,488.5 508.3,496.3 508.7,504.6 509.1,511.9 509.5,518.4 509.9,525.4 510.3,531.5 510.7,537.5 511.1,540.5 511.5,545.2 511.9,549.2 512.3,552.4 512.7,555.3 513.1,559.3 513.5,561.2 513.9,565.9 514.3,566.0 514.7,569.1 515.1,573.0 515.5,575.8 515.9,578.1 516.3,579.8 516.7,582.3 517.1,584.6 517.5,586.2 517.9,588.5 518.3,590.2 518.7,593.4 519.1,594.9 519.5,596.2 519.9,598.0 520.3,599.7 520.7,601.3 521.1,603.2 521.5,604.2 521.9,605.4 522.3,607.1 522.7,607.9 523.1,609.2 523.5,610.3 523.9,611.2 524.3,611.5 524.7,612.9 525.1,614.6 525.5,614.1 525.9,614.8" fill="none" stroke="#1e8c1e" stroke-width="1.9" stroke-linejoin="round" clip-path="url(#cc)"/>
<rect x="225.25" y="362.3" width="300.75" height="275.49999999999994" fill="none" stroke="#222" stroke-width="1.2"/>
<path d="M235.30 637.80L235.30 633.10 M235.30 362.30L235.30 367.00 M288.15 637.80L288.15 633.10 M288.15 362.30L288.15 367.00 M341.00 637.80L341.00 633.10 M341.00 362.30L341.00 367.00 M393.85 637.80L393.85 633.10 M393.85 362.30L393.85 367.00 M446.70 637.80L446.70 633.10 M446.70 362.30L446.70 367.00 M499.55 637.80L499.55 633.10 M499.55 362.30L499.55 367.00 M261.73 637.80L261.73 634.80 M261.73 362.30L261.73 365.30 M314.57 637.80L314.57 634.80 M314.57 362.30L314.57 365.30 M367.43 637.80L367.43 634.80 M367.43 362.30L367.43 365.30 M420.27 637.80L420.27 634.80 M420.27 362.30L420.27 365.30 M473.12 637.80L473.12 634.80 M473.12 362.30L473.12 365.30 M525.98 637.80L525.98 634.80 M525.98 362.30L525.98 365.30 M225.25 382.07L229.95 382.07 M526.00 382.07L521.30 382.07 M225.25 524.12L229.95 524.12 M526.00 524.12L521.30 524.12 M225.25 453.10L228.25 453.10 M526.00 453.10L523.00 453.10 M225.25 595.14L228.25 595.14 M526.00 595.14L523.00 595.14" stroke="#222" stroke-width="1.1" fill="none"/>
<text transform="translate(235.7 656.2) scale(1 1.11)" font-size="16.5" text-anchor="middle">100</text>
<text transform="translate(288.5 656.2) scale(1 1.11)" font-size="16.5" text-anchor="middle">200</text>
<text transform="translate(341.4 656.2) scale(1 1.11)" font-size="16.5" text-anchor="middle">300</text>
<text transform="translate(394.2 656.2) scale(1 1.11)" font-size="16.5" text-anchor="middle">400</text>
<text transform="translate(447.1 656.2) scale(1 1.11)" font-size="16.5" text-anchor="middle">500</text>
<text transform="translate(499.9 656.2) scale(1 1.11)" font-size="16.5" text-anchor="middle">600</text>
<text transform="translate(222.3 388.2) scale(1 1.11)" font-size="16.5" text-anchor="end">1</text>
<text transform="translate(222.3 530.2) scale(1 1.11)" font-size="16.5" text-anchor="end">0.5</text>
<text transform="translate(381.2 678.3) scale(1 1.04)" font-size="18.0" text-anchor="middle">Raman shift (cm<tspan font-size="12" dy="-6.3">-1</tspan><tspan dy="6.3">)</tspan></text>
<text transform="translate(194.5 500) rotate(-90) scale(1 1.0)" font-size="18.2" text-anchor="middle">Intensity (a.u)</text>
<text transform="translate(191.8 375.7) scale(1 1.14)" font-size="17.8" text-anchor="start">(c)</text>
<rect x="407.3" y="376.9" width="81.4" height="40.3" fill="#fff" stroke="#222" stroke-width="1"/>
<line x1="412.3" y1="388.6" x2="429.7" y2="388.6" stroke="#ff1493" stroke-width="1.5"/>
<text transform="translate(434.6 393.6) scale(1 1.05)" font-size="15.0" text-anchor="start">YG-211</text>
<line x1="412.3" y1="406.0" x2="429.7" y2="406.0" stroke="#1e8c1e" stroke-width="1.5"/>
<text transform="translate(434.6 411.0) scale(1 1.05)" font-size="15.0" text-anchor="start">Y-211</text>
</svg>
</body></html>
